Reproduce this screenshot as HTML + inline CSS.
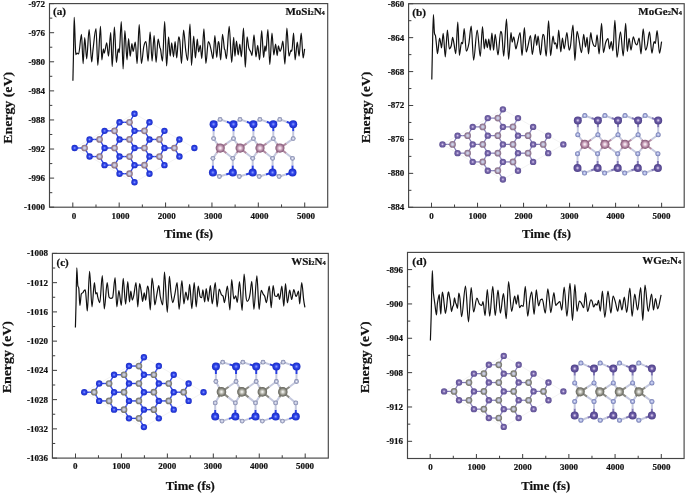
<!DOCTYPE html><html><head><meta charset="utf-8"><style>html,body{margin:0;padding:0;background:#fff;}body{width:685px;height:493px;overflow:hidden;}svg{display:block;filter:blur(0.45px);}</style></head><body><svg width="685" height="493" viewBox="0 0 685 493"><defs><radialGradient id="gSi" cx="0.5" cy="0.5" r="0.5"><stop offset="0" stop-color="#90a0ff"/><stop offset="0.45" stop-color="#2e44ea"/><stop offset="1" stop-color="#1a2cc4"/></radialGradient><radialGradient id="gN" cx="0.5" cy="0.5" r="0.5"><stop offset="0" stop-color="#f0f2ff"/><stop offset="0.35" stop-color="#b8c0e8"/><stop offset="0.7" stop-color="#9098cc"/><stop offset="1" stop-color="#6c74a8"/></radialGradient><radialGradient id="gNl" cx="0.5" cy="0.5" r="0.5"><stop offset="0" stop-color="#f8f8ff"/><stop offset="0.35" stop-color="#c8ccE2"/><stop offset="0.7" stop-color="#9ca2c2"/><stop offset="1" stop-color="#767ca0"/></radialGradient><radialGradient id="gMo" cx="0.5" cy="0.5" r="0.5"><stop offset="0" stop-color="#ffffff"/><stop offset="0.35" stop-color="#dcbcd0"/><stop offset="0.7" stop-color="#a87c98"/><stop offset="1" stop-color="#7e5474"/></radialGradient><radialGradient id="gMoT" cx="0.5" cy="0.5" r="0.5"><stop offset="0" stop-color="#d4d8f0"/><stop offset="0.35" stop-color="#c4c4dc"/><stop offset="0.7" stop-color="#9a8090"/><stop offset="1" stop-color="#8a7484"/></radialGradient><radialGradient id="gMoTb" cx="0.5" cy="0.5" r="0.5"><stop offset="0" stop-color="#d4d8f0"/><stop offset="0.35" stop-color="#c0c2dc"/><stop offset="0.7" stop-color="#9a8098"/><stop offset="1" stop-color="#86708a"/></radialGradient><radialGradient id="gWTr" cx="0.5" cy="0.5" r="0.5"><stop offset="0" stop-color="#d4d8ec"/><stop offset="0.35" stop-color="#c0c2d6"/><stop offset="0.7" stop-color="#86867e"/><stop offset="1" stop-color="#74746c"/></radialGradient><radialGradient id="gGe" cx="0.5" cy="0.5" r="0.5"><stop offset="0" stop-color="#eadcf8"/><stop offset="0.45" stop-color="#6c5ca6"/><stop offset="1" stop-color="#4e4088"/></radialGradient><radialGradient id="gGeT" cx="0.5" cy="0.5" r="0.5"><stop offset="0" stop-color="#e0d0f4"/><stop offset="0.45" stop-color="#7868ac"/><stop offset="1" stop-color="#5c4e92"/></radialGradient><radialGradient id="gW" cx="0.5" cy="0.5" r="0.5"><stop offset="0" stop-color="#ffffff"/><stop offset="0.35" stop-color="#c4c4bc"/><stop offset="0.7" stop-color="#86867c"/><stop offset="1" stop-color="#62625a"/></radialGradient><radialGradient id="gWT" cx="0.5" cy="0.5" r="0.5"><stop offset="0" stop-color="#e8e8e4"/><stop offset="0.45" stop-color="#8c8c88"/><stop offset="1" stop-color="#60605c"/></radialGradient><radialGradient id="gLav" cx="0.5" cy="0.5" r="0.5"><stop offset="0" stop-color="#eceaf4"/><stop offset="0.45" stop-color="#a8a2c4"/><stop offset="1" stop-color="#7a7298"/></radialGradient></defs><rect width="685" height="493" fill="#fff"/><g font-family='"Liberation Serif", serif' font-weight="bold" fill="#111" stroke="#111" stroke-width="0.2"><rect x="49.5" y="3.6" width="278.2" height="203.6" fill="none" stroke="#454545" stroke-width="1.15"/><line x1="72.8" y1="207.2" x2="72.8" y2="202.6" stroke="#444" stroke-width="1.05"/><text x="74" y="218.5" text-anchor="middle" font-size="9">0</text><line x1="95.99" y1="207.2" x2="95.99" y2="204.4" stroke="#444" stroke-width="1.05"/><line x1="119.18" y1="207.2" x2="119.18" y2="202.6" stroke="#444" stroke-width="1.05"/><text x="120.38" y="218.5" text-anchor="middle" font-size="9">1000</text><line x1="142.37" y1="207.2" x2="142.37" y2="204.4" stroke="#444" stroke-width="1.05"/><line x1="165.56" y1="207.2" x2="165.56" y2="202.6" stroke="#444" stroke-width="1.05"/><text x="166.76" y="218.5" text-anchor="middle" font-size="9">2000</text><line x1="188.75" y1="207.2" x2="188.75" y2="204.4" stroke="#444" stroke-width="1.05"/><line x1="211.94" y1="207.2" x2="211.94" y2="202.6" stroke="#444" stroke-width="1.05"/><text x="213.14" y="218.5" text-anchor="middle" font-size="9">3000</text><line x1="235.13" y1="207.2" x2="235.13" y2="204.4" stroke="#444" stroke-width="1.05"/><line x1="258.32" y1="207.2" x2="258.32" y2="202.6" stroke="#444" stroke-width="1.05"/><text x="259.52" y="218.5" text-anchor="middle" font-size="9">4000</text><line x1="281.51" y1="207.2" x2="281.51" y2="204.4" stroke="#444" stroke-width="1.05"/><line x1="304.7" y1="207.2" x2="304.7" y2="202.6" stroke="#444" stroke-width="1.05"/><text x="305.9" y="218.5" text-anchor="middle" font-size="9">5000</text><line x1="49.5" y1="3.6" x2="54.1" y2="3.6" stroke="#444" stroke-width="1.05"/><text x="45.1" y="6.55" text-anchor="end" font-size="9">-972</text><line x1="49.5" y1="18.14" x2="52.3" y2="18.14" stroke="#444" stroke-width="1.05"/><line x1="49.5" y1="32.69" x2="54.1" y2="32.69" stroke="#444" stroke-width="1.05"/><text x="45.1" y="35.64" text-anchor="end" font-size="9">-976</text><line x1="49.5" y1="47.23" x2="52.3" y2="47.23" stroke="#444" stroke-width="1.05"/><line x1="49.5" y1="61.77" x2="54.1" y2="61.77" stroke="#444" stroke-width="1.05"/><text x="45.1" y="64.72" text-anchor="end" font-size="9">-980</text><line x1="49.5" y1="76.31" x2="52.3" y2="76.31" stroke="#444" stroke-width="1.05"/><line x1="49.5" y1="90.86" x2="54.1" y2="90.86" stroke="#444" stroke-width="1.05"/><text x="45.1" y="93.81" text-anchor="end" font-size="9">-984</text><line x1="49.5" y1="105.4" x2="52.3" y2="105.4" stroke="#444" stroke-width="1.05"/><line x1="49.5" y1="119.94" x2="54.1" y2="119.94" stroke="#444" stroke-width="1.05"/><text x="45.1" y="122.89" text-anchor="end" font-size="9">-988</text><line x1="49.5" y1="134.49" x2="52.3" y2="134.49" stroke="#444" stroke-width="1.05"/><line x1="49.5" y1="149.03" x2="54.1" y2="149.03" stroke="#444" stroke-width="1.05"/><text x="45.1" y="151.98" text-anchor="end" font-size="9">-992</text><line x1="49.5" y1="163.57" x2="52.3" y2="163.57" stroke="#444" stroke-width="1.05"/><line x1="49.5" y1="178.11" x2="54.1" y2="178.11" stroke="#444" stroke-width="1.05"/><text x="45.1" y="181.06" text-anchor="end" font-size="9">-996</text><line x1="49.5" y1="192.66" x2="52.3" y2="192.66" stroke="#444" stroke-width="1.05"/><line x1="49.5" y1="207.2" x2="54.1" y2="207.2" stroke="#444" stroke-width="1.05"/><text x="45.1" y="210.15" text-anchor="end" font-size="9">-1000</text><text x="188.6" y="238.1" text-anchor="middle" font-size="13" textLength="49" lengthAdjust="spacingAndGlyphs">Time (fs)</text><text transform="translate(12.4,143.7) rotate(-90)" x="0" y="0" font-size="13.5" textLength="71.7" lengthAdjust="spacingAndGlyphs">Energy (eV)</text><text x="52.9" y="15.3" font-size="11.2" textLength="13.1" lengthAdjust="spacingAndGlyphs">(a)</text><text x="324.8" y="15" text-anchor="end" font-size="11">MoSi<tspan font-size="6.4" dy="0.3">2</tspan><tspan dy="-0.3">N</tspan><tspan font-size="6.4" dy="0.3">4</tspan></text><path d="M72.9,80.7C73.07,73.13 73.23,66.13 73.4,58C73.67,44.99 73.93,17.3 74.2,17.3C74.57,17.3 74.93,36.43 75.3,45C75.47,48.9 75.63,54.7 75.8,54.7C76.2,54.7 76.6,53 77,53C77.53,53 78.07,54 78.6,54C79.57,54 80.53,34.4 81.5,34.4C82.03,34.4 82.57,63.7 83.1,63.7C83.63,63.7 84.17,37.6 84.7,37.6C85.37,37.6 86.03,58.8 86.7,58.8C87.5,58.8 88.3,29.5 89.1,29.5C89.97,29.5 90.83,62 91.7,62C92.1,62 92.5,53.7 92.9,50.6C93.93,42.6 94.97,28.7 96,28.7C96.6,28.7 97.2,65.3 97.8,65.3C98.7,65.3 99.6,26.3 100.5,26.3C100.93,26.3 101.37,59.9 101.8,59.9C102.33,59.9 102.87,48.9 103.4,48.9C103.7,48.9 104,53.2 104.3,53.2C105.1,53.2 105.9,42.8 106.7,42.8C107.3,42.8 107.9,56.2 108.5,56.2C109.23,56.2 109.97,32.5 110.7,32.5C111.2,32.5 111.7,66.6 112.2,66.6C112.93,66.6 113.67,27 114.4,27C115.07,27 115.73,62.3 116.4,62.3C117,62.3 117.6,48.9 118.2,48.9C118.53,48.9 118.87,52.6 119.2,52.6C119.9,52.6 120.6,21.6 121.3,21.6C121.9,21.6 122.5,69 123.1,69C123.7,69 124.3,30.7 124.9,30.7C125.6,30.7 126.3,59.9 127,59.9C127.53,59.9 128.07,38.6 128.6,38.6C129.13,38.6 129.67,56.2 130.2,56.2C130.77,56.2 131.33,43.5 131.9,43.5C132.3,43.5 132.7,51.4 133.1,51.4C133.83,51.4 134.57,42.2 135.3,42.2C135.9,42.2 136.5,63.5 137.1,63.5C137.8,63.5 138.5,24.6 139.2,24.6C139.93,24.6 140.67,63.5 141.4,63.5C142.2,63.5 143,50.31 143.8,46.5C144.53,43.01 145.27,41.6 146,41.6C146.7,41.6 147.4,61.1 148.1,61.1C148.77,61.1 149.43,31.9 150.1,31.9C150.77,31.9 151.43,61.1 152.1,61.1C152.77,61.1 153.43,35.5 154.1,35.5C154.77,35.5 155.43,62.3 156.1,62.3C156.77,62.3 157.43,39.2 158.1,39.2C158.7,39.2 159.3,45.27 159.9,47.7C160.1,48.51 160.3,47.87 160.5,48.9C161.17,52.34 161.83,61.1 162.5,61.1C163.23,61.1 163.97,21.6 164.7,21.6C165.33,21.6 165.97,66 166.6,66C167.27,66 167.93,36.8 168.6,36.8C169.13,36.8 169.67,56.2 170.2,56.2C170.7,56.2 171.2,42.8 171.7,42.8C172.3,42.8 172.9,56.8 173.5,56.8C174.03,56.8 174.57,41.6 175.1,41.6C175.63,41.6 176.17,58 176.7,58C177.37,58 178.03,36.8 178.7,36.8C179.1,36.8 179.5,37.79 179.9,41.6C180.43,46.69 180.97,63.5 181.5,63.5C182.2,63.5 182.9,30.1 183.6,30.1C184.3,30.1 185,44.78 185.7,50.1C186.33,54.91 186.97,60.5 187.6,60.5C188.4,60.5 189.2,24 190,24C190.5,24 191,65.4 191.5,65.4C192.23,65.4 192.97,36.2 193.7,36.2C194.27,36.2 194.83,58 195.4,58C196.03,58 196.67,39.2 197.3,39.2C197.73,39.2 198.17,52 198.6,52C199.17,52 199.73,45.3 200.3,45.3C200.8,45.3 201.3,58.7 201.8,58.7C202.5,58.7 203.2,28.9 203.9,28.9C204.57,28.9 205.23,63.5 205.9,63.5C206.7,63.5 207.5,41.6 208.3,41.6C208.77,41.6 209.23,42.57 209.7,44C210.23,45.64 210.77,48.42 211.3,50.8C211.87,53.32 212.43,58.7 213,58.7C213.63,58.7 214.27,35.5 214.9,35.5C215.5,35.5 216.1,57.4 216.7,57.4C217.23,57.4 217.77,41.6 218.3,41.6C218.57,41.6 218.83,41.6 219.1,43.5C219.63,47.3 220.17,59.9 220.7,59.9C221.3,59.9 221.9,34.3 222.5,34.3C223.13,34.3 223.77,45.1 224.4,48.9C224.6,50.1 224.8,49.12 225,50.1C225.47,52.39 225.93,58.7 226.4,58.7C227.33,58.7 228.27,26.4 229.2,26.4C230.03,26.4 230.87,62.3 231.7,62.3C232.37,62.3 233.03,37.4 233.7,37.4C234.1,37.4 234.5,56.2 234.9,56.2C235.43,56.2 235.97,41 236.5,41C237.07,41 237.63,55 238.2,55C238.73,55 239.27,44 239.8,44C240.33,44 240.87,56.8 241.4,56.8C242.1,56.8 242.8,28.2 243.5,28.2C244.1,28.2 244.7,67.2 245.3,67.2C245.9,67.2 246.5,36.8 247.1,36.8C247.63,36.8 248.17,45.51 248.7,47.7C249.4,50.58 250.1,50.32 250.8,52C251.2,52.96 251.6,55.6 252,55.6C252.67,55.6 253.33,34.9 254,34.9C254.67,34.9 255.33,56.8 256,56.8C256.57,56.8 257.13,45.3 257.7,45.3C258.33,45.3 258.97,59.9 259.6,59.9C260.3,59.9 261,30.7 261.7,30.7C262.33,30.7 262.97,57.5 263.6,57.5C264.07,57.5 264.53,45.9 265,45.9C265.3,45.9 265.6,51.4 265.9,51.4C266.57,51.4 267.23,29.5 267.9,29.5C268.53,29.5 269.17,64.5 269.8,64.5C270.53,64.5 271.27,33.1 272,33.1C272.6,33.1 273.2,55 273.8,55C274.4,55 275,44 275.6,44C276.13,44 276.67,55.6 277.2,55.6C277.6,55.6 278,45.9 278.4,45.9C278.93,45.9 279.47,51.4 280,51.4C280.5,51.4 281,49.49 281.5,47.7C281.97,46.03 282.43,41 282.9,41C283.57,41 284.23,64.1 284.9,64.1C285.57,64.1 286.23,28.2 286.9,28.2C287.6,28.2 288.3,56.2 289,56.2C289.67,56.2 290.33,50.1 291,50.1C291.27,50.1 291.53,51.4 291.8,51.4C292.4,51.4 293,33.1 293.6,33.1C294.1,33.1 294.6,59.9 295.1,59.9C295.83,59.9 296.57,42.2 297.3,42.2C297.9,42.2 298.5,56.2 299.1,56.2C299.8,56.2 300.5,33.1 301.2,33.1C301.83,33.1 302.47,58 303.1,58C303.6,58 304.1,51.93 304.6,48.9" fill="none" stroke="#111" stroke-width="1.2" stroke-linejoin="round"/></g><g font-family='"Liberation Serif", serif' font-weight="bold" fill="#111" stroke="#111" stroke-width="0.2"><rect x="408.6" y="3.7" width="275.6" height="203.6" fill="none" stroke="#454545" stroke-width="1.15"/><line x1="431.5" y1="207.3" x2="431.5" y2="202.7" stroke="#444" stroke-width="1.05"/><text x="431.5" y="218.6" text-anchor="middle" font-size="9">0</text><line x1="454.51" y1="207.3" x2="454.51" y2="204.5" stroke="#444" stroke-width="1.05"/><line x1="477.52" y1="207.3" x2="477.52" y2="202.7" stroke="#444" stroke-width="1.05"/><text x="477.52" y="218.6" text-anchor="middle" font-size="9">1000</text><line x1="500.53" y1="207.3" x2="500.53" y2="204.5" stroke="#444" stroke-width="1.05"/><line x1="523.54" y1="207.3" x2="523.54" y2="202.7" stroke="#444" stroke-width="1.05"/><text x="523.54" y="218.6" text-anchor="middle" font-size="9">2000</text><line x1="546.55" y1="207.3" x2="546.55" y2="204.5" stroke="#444" stroke-width="1.05"/><line x1="569.56" y1="207.3" x2="569.56" y2="202.7" stroke="#444" stroke-width="1.05"/><text x="569.56" y="218.6" text-anchor="middle" font-size="9">3000</text><line x1="592.57" y1="207.3" x2="592.57" y2="204.5" stroke="#444" stroke-width="1.05"/><line x1="615.58" y1="207.3" x2="615.58" y2="202.7" stroke="#444" stroke-width="1.05"/><text x="615.58" y="218.6" text-anchor="middle" font-size="9">4000</text><line x1="638.59" y1="207.3" x2="638.59" y2="204.5" stroke="#444" stroke-width="1.05"/><line x1="661.6" y1="207.3" x2="661.6" y2="202.7" stroke="#444" stroke-width="1.05"/><text x="661.6" y="218.6" text-anchor="middle" font-size="9">5000</text><line x1="408.6" y1="3.7" x2="413.2" y2="3.7" stroke="#444" stroke-width="1.05"/><text x="404.2" y="6.65" text-anchor="end" font-size="9">-860</text><line x1="408.6" y1="20.67" x2="411.4" y2="20.67" stroke="#444" stroke-width="1.05"/><line x1="408.6" y1="37.63" x2="413.2" y2="37.63" stroke="#444" stroke-width="1.05"/><text x="404.2" y="40.58" text-anchor="end" font-size="9">-864</text><line x1="408.6" y1="54.6" x2="411.4" y2="54.6" stroke="#444" stroke-width="1.05"/><line x1="408.6" y1="71.57" x2="413.2" y2="71.57" stroke="#444" stroke-width="1.05"/><text x="404.2" y="74.52" text-anchor="end" font-size="9">-868</text><line x1="408.6" y1="88.53" x2="411.4" y2="88.53" stroke="#444" stroke-width="1.05"/><line x1="408.6" y1="105.5" x2="413.2" y2="105.5" stroke="#444" stroke-width="1.05"/><text x="404.2" y="108.45" text-anchor="end" font-size="9">-872</text><line x1="408.6" y1="122.47" x2="411.4" y2="122.47" stroke="#444" stroke-width="1.05"/><line x1="408.6" y1="139.43" x2="413.2" y2="139.43" stroke="#444" stroke-width="1.05"/><text x="404.2" y="142.38" text-anchor="end" font-size="9">-876</text><line x1="408.6" y1="156.4" x2="411.4" y2="156.4" stroke="#444" stroke-width="1.05"/><line x1="408.6" y1="173.37" x2="413.2" y2="173.37" stroke="#444" stroke-width="1.05"/><text x="404.2" y="176.32" text-anchor="end" font-size="9">-880</text><line x1="408.6" y1="190.33" x2="411.4" y2="190.33" stroke="#444" stroke-width="1.05"/><line x1="408.6" y1="207.3" x2="413.2" y2="207.3" stroke="#444" stroke-width="1.05"/><text x="404.2" y="210.25" text-anchor="end" font-size="9">-884</text><text x="546.4" y="238.2" text-anchor="middle" font-size="13" textLength="49" lengthAdjust="spacingAndGlyphs">Time (fs)</text><text transform="translate(369.8,143.3) rotate(-90)" x="0" y="0" font-size="13.5" textLength="71.7" lengthAdjust="spacingAndGlyphs">Energy (eV)</text><text x="412.2" y="15.6" font-size="11.2" textLength="13.8" lengthAdjust="spacingAndGlyphs">(b)</text><text x="682" y="15.1" text-anchor="end" font-size="11">MoGe<tspan font-size="6.4" dy="0.3">2</tspan><tspan dy="-0.3">N</tspan><tspan font-size="6.4" dy="0.3">4</tspan></text><path d="M431.8,79.6C431.97,71.5 432.13,62.06 432.3,55.3C432.67,40.43 433.03,14.7 433.4,14.7C433.73,14.7 434.07,29.69 434.4,32.6C434.77,35.8 435.13,33.73 435.5,35.8C435.8,37.49 436.1,41.23 436.4,43.9C436.77,47.16 437.13,53.6 437.5,53.6C438.2,53.6 438.9,38.2 439.6,38.2C439.97,38.2 440.33,41.21 440.7,43.1C440.97,44.48 441.23,48 441.5,48C442.07,48 442.63,33.4 443.2,33.4C443.9,33.4 444.6,56.9 445.3,56.9C446,56.9 446.7,30.1 447.4,30.1C448.03,30.1 448.67,48.8 449.3,48.8C449.97,48.8 450.63,47.8 451.3,45.5C451.73,44 452.17,37.4 452.6,37.4C453.03,37.4 453.47,40.91 453.9,43.1C454.53,46.31 455.17,53.6 455.8,53.6C456.47,53.6 457.13,22 457.8,22C458.33,22 458.87,55.3 459.4,55.3C460.1,55.3 460.8,42.3 461.5,42.3C461.87,42.3 462.23,43.9 462.6,43.9C463.13,43.9 463.67,28.5 464.2,28.5C464.9,28.5 465.6,51.2 466.3,51.2C467.13,51.2 467.97,48.17 468.8,43.9C469.6,39.8 470.4,26.1 471.2,26.1C472,26.1 472.8,60.1 473.6,60.1C474.8,60.1 476,30.1 477.2,30.1C478.23,30.1 479.27,56.5 480.3,56.5C481.03,56.5 481.77,26.6 482.5,26.6C483.1,26.6 483.7,48.9 484.3,48.9C484.8,48.9 485.3,39.2 485.8,39.2C486.3,39.2 486.8,47.7 487.3,47.7C487.8,47.7 488.3,39.2 488.8,39.2C489.3,39.2 489.8,50.1 490.3,50.1C490.83,50.1 491.37,33.1 491.9,33.1C492.47,33.1 493.03,50.1 493.6,50.1C494.13,50.1 494.67,34.3 495.2,34.3C496.13,34.3 497.07,55 498,55C498.9,55 499.8,31.3 500.7,31.3C501.1,31.3 501.5,31.3 501.9,34.3C502.5,38.8 503.1,56.2 503.7,56.2C504.63,56.2 505.57,19.1 506.5,19.1C507.2,19.1 507.9,59.3 508.6,59.3C509.4,59.3 510.2,32.5 511,32.5C511.4,32.5 511.8,42.2 512.2,42.2C512.73,42.2 513.27,36.8 513.8,36.8C514.5,36.8 515.2,48.9 515.9,48.9C516.43,48.9 516.97,44.88 517.5,42.8C518.37,39.42 519.23,32.5 520.1,32.5C520.73,32.5 521.37,55.6 522,55.6C522.8,55.6 523.6,27.6 524.4,27.6C525,27.6 525.6,52 526.2,52C526.83,52 527.47,47.73 528.1,45.3C528.9,42.23 529.7,35.5 530.5,35.5C531.1,35.5 531.7,54.4 532.3,54.4C533.3,54.4 534.3,34.3 535.3,34.3C535.77,34.3 536.23,45.3 536.7,45.3C537.17,45.3 537.63,36.2 538.1,36.2C538.9,36.2 539.7,55 540.5,55C541.3,55 542.1,34.3 542.9,34.3C543.3,34.3 543.7,34.3 544.1,36.2C544.8,39.52 545.5,56.2 546.2,56.2C547,56.2 547.8,20.9 548.6,20.9C549.27,20.9 549.93,55.6 550.6,55.6C551.4,55.6 552.2,36.2 553,36.2C553.5,36.2 554,44 554.5,44C554.9,44 555.3,42.8 555.7,42.8C556.17,42.8 556.63,48.9 557.1,48.9C557.63,48.9 558.17,30.1 558.7,30.1C559.4,30.1 560.1,52 560.8,52C561.33,52 561.87,38 562.4,38C563,38 563.6,48.9 564.2,48.9C565.1,48.9 566,32.5 566.9,32.5C567.63,32.5 568.37,50.1 569.1,50.1C569.57,50.1 570.03,48.88 570.5,45.9C571.33,40.58 572.17,25.2 573,25.2C573.63,25.2 574.27,60.5 574.9,60.5C575.6,60.5 576.3,31.3 577,31.3C577.6,31.3 578.2,35.76 578.8,38.6C579.7,42.86 580.6,52.6 581.5,52.6C582.23,52.6 582.97,34.3 583.7,34.3C584.3,34.3 584.9,47.1 585.5,47.1C586.03,47.1 586.57,37.4 587.1,37.4C587.57,37.4 588.03,53.8 588.5,53.8C589.27,53.8 590.03,32.5 590.8,32.5C591.13,32.5 591.47,37.68 591.8,39.2C592.4,41.94 593,44.16 593.6,45.3C594.23,46.5 594.87,46.5 595.5,46.5C596.03,46.5 596.57,34.9 597.1,34.9C597.77,34.9 598.43,53.8 599.1,53.8C599.93,53.8 600.77,23.4 601.6,23.4C602.2,23.4 602.8,52.6 603.4,52.6C604.13,52.6 604.87,45.03 605.6,42.8C606.4,40.37 607.2,38.6 608,38.6C608.5,38.6 609,48.9 609.5,48.9C610.1,48.9 610.7,41.6 611.3,41.6C611.83,41.6 612.37,50.8 612.9,50.8C613.57,50.8 614.23,20.3 614.9,20.3C615.6,20.3 616.3,57.4 617,57.4C618.17,57.4 619.33,31.9 620.5,31.9C621.4,31.9 622.3,55.9 623.2,55.9C624.03,55.9 624.87,23.4 625.7,23.4C626.23,23.4 626.77,51.4 627.3,51.4C627.9,51.4 628.5,38.3 629.1,38.3C629.73,38.3 630.37,50.1 631,50.1C631.77,50.1 632.53,36.8 633.3,36.8C633.97,36.8 634.63,41.58 635.3,43.1C635.83,44.31 636.37,45 636.9,45C637.63,45 638.37,38 639.1,38C639.73,38 640.37,53.8 641,53.8C641.73,53.8 642.47,28.9 643.2,28.9C643.97,28.9 644.73,50.1 645.5,50.1C646.1,50.1 646.7,48.03 647.3,45.3C648.03,41.96 648.77,31.9 649.5,31.9C650.3,31.9 651.1,53.2 651.9,53.2C652.63,53.2 653.37,41.6 654.1,41.6C654.5,41.6 654.9,43.5 655.3,43.5C655.9,43.5 656.5,30.7 657.1,30.7C657.9,30.7 658.7,53.2 659.5,53.2C660.2,53.2 660.9,45.47 661.6,41.6" fill="none" stroke="#111" stroke-width="1.2" stroke-linejoin="round"/></g><g font-family='"Liberation Serif", serif' font-weight="bold" fill="#111" stroke="#111" stroke-width="0.2"><rect x="52.4" y="253.4" width="275.9" height="204.7" fill="none" stroke="#454545" stroke-width="1.15"/><line x1="75.5" y1="458.1" x2="75.5" y2="453.5" stroke="#444" stroke-width="1.05"/><text x="75.3" y="469.4" text-anchor="middle" font-size="9">0</text><line x1="98.47" y1="458.1" x2="98.47" y2="455.3" stroke="#444" stroke-width="1.05"/><line x1="121.44" y1="458.1" x2="121.44" y2="453.5" stroke="#444" stroke-width="1.05"/><text x="121.24" y="469.4" text-anchor="middle" font-size="9">1000</text><line x1="144.41" y1="458.1" x2="144.41" y2="455.3" stroke="#444" stroke-width="1.05"/><line x1="167.38" y1="458.1" x2="167.38" y2="453.5" stroke="#444" stroke-width="1.05"/><text x="167.18" y="469.4" text-anchor="middle" font-size="9">2000</text><line x1="190.35" y1="458.1" x2="190.35" y2="455.3" stroke="#444" stroke-width="1.05"/><line x1="213.32" y1="458.1" x2="213.32" y2="453.5" stroke="#444" stroke-width="1.05"/><text x="213.12" y="469.4" text-anchor="middle" font-size="9">3000</text><line x1="236.29" y1="458.1" x2="236.29" y2="455.3" stroke="#444" stroke-width="1.05"/><line x1="259.26" y1="458.1" x2="259.26" y2="453.5" stroke="#444" stroke-width="1.05"/><text x="259.06" y="469.4" text-anchor="middle" font-size="9">4000</text><line x1="282.23" y1="458.1" x2="282.23" y2="455.3" stroke="#444" stroke-width="1.05"/><line x1="305.2" y1="458.1" x2="305.2" y2="453.5" stroke="#444" stroke-width="1.05"/><text x="305" y="469.4" text-anchor="middle" font-size="9">5000</text><line x1="52.4" y1="253.4" x2="57" y2="253.4" stroke="#444" stroke-width="1.05"/><text x="48" y="256.35" text-anchor="end" font-size="9">-1008</text><line x1="52.4" y1="268.02" x2="55.2" y2="268.02" stroke="#444" stroke-width="1.05"/><line x1="52.4" y1="282.64" x2="57" y2="282.64" stroke="#444" stroke-width="1.05"/><text x="48" y="285.59" text-anchor="end" font-size="9">-1012</text><line x1="52.4" y1="297.26" x2="55.2" y2="297.26" stroke="#444" stroke-width="1.05"/><line x1="52.4" y1="311.89" x2="57" y2="311.89" stroke="#444" stroke-width="1.05"/><text x="48" y="314.84" text-anchor="end" font-size="9">-1016</text><line x1="52.4" y1="326.51" x2="55.2" y2="326.51" stroke="#444" stroke-width="1.05"/><line x1="52.4" y1="341.13" x2="57" y2="341.13" stroke="#444" stroke-width="1.05"/><text x="48" y="344.08" text-anchor="end" font-size="9">-1020</text><line x1="52.4" y1="355.75" x2="55.2" y2="355.75" stroke="#444" stroke-width="1.05"/><line x1="52.4" y1="370.37" x2="57" y2="370.37" stroke="#444" stroke-width="1.05"/><text x="48" y="373.32" text-anchor="end" font-size="9">-1024</text><line x1="52.4" y1="384.99" x2="55.2" y2="384.99" stroke="#444" stroke-width="1.05"/><line x1="52.4" y1="399.61" x2="57" y2="399.61" stroke="#444" stroke-width="1.05"/><text x="48" y="402.56" text-anchor="end" font-size="9">-1028</text><line x1="52.4" y1="414.24" x2="55.2" y2="414.24" stroke="#444" stroke-width="1.05"/><line x1="52.4" y1="428.86" x2="57" y2="428.86" stroke="#444" stroke-width="1.05"/><text x="48" y="431.81" text-anchor="end" font-size="9">-1032</text><line x1="52.4" y1="443.48" x2="55.2" y2="443.48" stroke="#444" stroke-width="1.05"/><line x1="52.4" y1="458.1" x2="57" y2="458.1" stroke="#444" stroke-width="1.05"/><text x="48" y="461.05" text-anchor="end" font-size="9">-1036</text><text x="190.35" y="489.7" text-anchor="middle" font-size="13" textLength="49" lengthAdjust="spacingAndGlyphs">Time (fs)</text><text transform="translate(10.8,393.3) rotate(-90)" x="0" y="0" font-size="13.5" textLength="72.1" lengthAdjust="spacingAndGlyphs">Energy (eV)</text><text x="56.6" y="266.1" font-size="11.2" textLength="12.1" lengthAdjust="spacingAndGlyphs">(c)</text><text x="325.7" y="264.9" text-anchor="end" font-size="11">WSi<tspan font-size="6.4" dy="0.3">2</tspan><tspan dy="-0.3">N</tspan><tspan font-size="6.4" dy="0.3">4</tspan></text><path d="M75.4,327.4C75.6,319.83 75.8,313.21 76,304.7C76.27,293.35 76.53,267.8 76.8,267.8C77.13,267.8 77.47,282.6 77.8,285.5C78.13,288.4 78.47,285.5 78.8,288.4C79.17,291.59 79.53,305.4 79.9,305.4C80.37,305.4 80.83,295.15 81.3,294C81.87,292.6 82.43,293.28 83,292.6C83.4,292.12 83.8,290.99 84.2,290.5C84.57,290.05 84.93,289.8 85.3,289.8C85.63,289.8 85.97,296.17 86.3,299.7C86.63,303.23 86.97,311 87.3,311C88.07,311 88.83,271.3 89.6,271.3C90.4,271.3 91.2,306.8 92,306.8C92.8,306.8 93.6,282.7 94.4,282.7C94.87,282.7 95.33,294 95.8,294C96.2,294 96.6,292.6 97,292.6C97.23,292.6 97.47,296.07 97.7,296.9C98.4,299.4 99.1,302.6 99.8,302.6C100.63,302.6 101.47,275.6 102.3,275.6C102.97,275.6 103.63,308.9 104.3,308.9C105.27,308.9 106.23,282.7 107.2,282.7C107.8,282.7 108.4,295.57 109,296.9C109.63,298.3 110.27,298.3 110.9,298.3C111.47,298.3 112.03,298.3 112.6,297.6C113.43,296.57 114.27,277.7 115.1,277.7C115.67,277.7 116.23,306.8 116.8,306.8C117.5,306.8 118.2,290.5 118.9,290.5C119.7,290.5 120.5,305.4 121.3,305.4C121.93,305.4 122.57,278.4 123.2,278.4C124,278.4 124.8,304.2 125.6,304.2C126.33,304.2 127.07,281.6 127.8,281.6C128.37,281.6 128.93,302 129.5,302C129.93,302 130.37,291 130.8,291C131.3,291 131.8,300.1 132.3,300.1C132.8,300.1 133.3,297.68 133.8,295.3C134.53,291.81 135.27,282.5 136,282.5C136.6,282.5 137.2,306.8 137.8,306.8C138.4,306.8 139,283.7 139.6,283.7C140.2,283.7 140.8,289.26 141.4,292.8C141.8,295.16 142.2,301.4 142.6,301.4C143.13,301.4 143.67,292.8 144.2,292.8C144.7,292.8 145.2,300.1 145.7,300.1C146.3,300.1 146.9,286.2 147.5,286.2C147.9,286.2 148.3,287.01 148.7,290.4C149.23,294.91 149.77,309.9 150.3,309.9C150.87,309.9 151.43,278.2 152,278.2C152.53,278.2 153.07,284.1 153.6,289.2C154,293.03 154.4,305 154.8,305C155.5,305 156.2,297.51 156.9,294.1C157.53,291.01 158.17,285.5 158.8,285.5C159.3,285.5 159.8,294 160.3,296.5C161.1,300.5 161.9,305 162.7,305C163.3,305 163.9,272.2 164.5,272.2C165.43,272.2 166.37,312.3 167.3,312.3C168,312.3 168.7,276.4 169.4,276.4C169.93,276.4 170.47,288.57 171,292.8C171.57,297.3 172.13,302.6 172.7,302.6C173.43,302.6 174.17,297.45 174.9,294.1C175.63,290.75 176.37,282.5 177.1,282.5C177.77,282.5 178.43,309.3 179.1,309.3C180.03,309.3 180.97,280.7 181.9,280.7C182.57,280.7 183.23,303.8 183.9,303.8C184.53,303.8 185.17,292.2 185.8,292.2C186.5,292.2 187.2,300.1 187.9,300.1C188.5,300.1 189.1,284.3 189.7,284.3C190.4,284.3 191.1,308.7 191.8,308.7C192.6,308.7 193.4,282.5 194.2,282.5C194.87,282.5 195.53,306.8 196.2,306.8C196.87,306.8 197.53,286.2 198.2,286.2C198.83,286.2 199.47,295.07 200.1,296.5C200.63,297.7 201.17,297.7 201.7,297.7C202.1,297.7 202.5,289.8 202.9,289.8C203.5,289.8 204.1,302 204.7,302C205.2,302 205.7,288.6 206.2,288.6C206.87,288.6 207.53,301.4 208.2,301.4C208.93,301.4 209.67,285.5 210.4,285.5C211,285.5 211.6,303.8 212.2,303.8C213.23,303.8 214.27,282.5 215.3,282.5C215.9,282.5 216.5,306.8 217.1,306.8C217.8,306.8 218.5,289.2 219.2,289.2C219.93,289.2 220.67,293.36 221.4,294.7C222,295.79 222.6,294.92 223.2,296.5C223.6,297.55 224,302.6 224.4,302.6C225.4,302.6 226.4,286.2 227.4,286.2C228.23,286.2 229.07,309.9 229.9,309.9C230.5,309.9 231.1,279.5 231.7,279.5C232.4,279.5 233.1,298.9 233.8,298.9C234.43,298.9 235.07,295.9 235.7,295.9C236.23,295.9 236.77,302.3 237.3,302.3C238.03,302.3 238.77,281.6 239.5,281.6C240.37,281.6 241.23,310.5 242.1,310.5C242.77,310.5 243.43,274 244.1,274C244.73,274 245.37,290.9 246,296.5C246.4,300.04 246.8,301.4 247.2,301.4C247.8,301.4 248.4,300.62 249,298.9C249.4,297.75 249.8,295.31 250.2,292.8C250.73,289.45 251.27,281.3 251.8,281.3C252.5,281.3 253.2,309.3 253.9,309.3C254.9,309.3 255.9,275.8 256.9,275.8C257.63,275.8 258.37,309.3 259.1,309.3C259.8,309.3 260.5,290.4 261.2,290.4C261.87,290.4 262.53,292.97 263.2,294.1C263.73,295 264.27,295.08 264.8,296.5C265.33,297.92 265.87,302.6 266.4,302.6C267.37,302.6 268.33,286.2 269.3,286.2C269.93,286.2 270.57,307.7 271.2,307.7C271.83,307.7 272.47,285.5 273.1,285.5C273.7,285.5 274.3,295.33 274.9,295.9C275.53,296.5 276.17,296.5 276.8,296.5C277.3,296.5 277.8,293.5 278.3,293.5C278.7,293.5 279.1,299.5 279.5,299.5C280.3,299.5 281.1,286.2 281.9,286.2C282.53,286.2 283.17,306.2 283.8,306.2C284.37,306.2 284.93,283.7 285.5,283.7C286.13,283.7 286.77,302.9 287.4,302.9C288.17,302.9 288.93,290.1 289.7,290.1C290.37,290.1 291.03,299.5 291.7,299.5C292.4,299.5 293.1,289.5 293.8,289.5C294.53,289.5 295.27,296.5 296,296.5C296.3,296.5 296.6,295.96 296.9,295.3C297.43,294.13 297.97,291 298.5,291C298.9,291 299.3,303.8 299.7,303.8C300.37,303.8 301.03,282.5 301.7,282.5C302.37,282.5 303.03,294.91 303.7,300.1C304.1,303.21 304.5,304.97 304.9,307.4" fill="none" stroke="#111" stroke-width="1.2" stroke-linejoin="round"/></g><g font-family='"Liberation Serif", serif' font-weight="bold" fill="#111" stroke="#111" stroke-width="0.2"><rect x="407.5" y="252.4" width="276.6" height="206.1" fill="none" stroke="#454545" stroke-width="1.15"/><line x1="430.2" y1="458.5" x2="430.2" y2="453.9" stroke="#444" stroke-width="1.05"/><text x="430.4" y="469.8" text-anchor="middle" font-size="9">0</text><line x1="453.31" y1="458.5" x2="453.31" y2="455.7" stroke="#444" stroke-width="1.05"/><line x1="476.42" y1="458.5" x2="476.42" y2="453.9" stroke="#444" stroke-width="1.05"/><text x="476.62" y="469.8" text-anchor="middle" font-size="9">1000</text><line x1="499.53" y1="458.5" x2="499.53" y2="455.7" stroke="#444" stroke-width="1.05"/><line x1="522.64" y1="458.5" x2="522.64" y2="453.9" stroke="#444" stroke-width="1.05"/><text x="522.84" y="469.8" text-anchor="middle" font-size="9">2000</text><line x1="545.75" y1="458.5" x2="545.75" y2="455.7" stroke="#444" stroke-width="1.05"/><line x1="568.86" y1="458.5" x2="568.86" y2="453.9" stroke="#444" stroke-width="1.05"/><text x="569.06" y="469.8" text-anchor="middle" font-size="9">3000</text><line x1="591.97" y1="458.5" x2="591.97" y2="455.7" stroke="#444" stroke-width="1.05"/><line x1="615.08" y1="458.5" x2="615.08" y2="453.9" stroke="#444" stroke-width="1.05"/><text x="615.28" y="469.8" text-anchor="middle" font-size="9">4000</text><line x1="638.19" y1="458.5" x2="638.19" y2="455.7" stroke="#444" stroke-width="1.05"/><line x1="661.3" y1="458.5" x2="661.3" y2="453.9" stroke="#444" stroke-width="1.05"/><text x="661.5" y="469.8" text-anchor="middle" font-size="9">5000</text><line x1="407.5" y1="269.57" x2="412.1" y2="269.57" stroke="#444" stroke-width="1.05"/><text x="403.1" y="272.52" text-anchor="end" font-size="9">-896</text><line x1="407.5" y1="286.75" x2="410.3" y2="286.75" stroke="#444" stroke-width="1.05"/><line x1="407.5" y1="303.93" x2="412.1" y2="303.93" stroke="#444" stroke-width="1.05"/><text x="403.1" y="306.88" text-anchor="end" font-size="9">-900</text><line x1="407.5" y1="321.1" x2="410.3" y2="321.1" stroke="#444" stroke-width="1.05"/><line x1="407.5" y1="338.27" x2="412.1" y2="338.27" stroke="#444" stroke-width="1.05"/><text x="403.1" y="341.22" text-anchor="end" font-size="9">-904</text><line x1="407.5" y1="355.45" x2="410.3" y2="355.45" stroke="#444" stroke-width="1.05"/><line x1="407.5" y1="372.62" x2="412.1" y2="372.62" stroke="#444" stroke-width="1.05"/><text x="403.1" y="375.57" text-anchor="end" font-size="9">-908</text><line x1="407.5" y1="389.8" x2="410.3" y2="389.8" stroke="#444" stroke-width="1.05"/><line x1="407.5" y1="406.98" x2="412.1" y2="406.98" stroke="#444" stroke-width="1.05"/><text x="403.1" y="409.93" text-anchor="end" font-size="9">-912</text><line x1="407.5" y1="424.15" x2="410.3" y2="424.15" stroke="#444" stroke-width="1.05"/><line x1="407.5" y1="441.32" x2="412.1" y2="441.32" stroke="#444" stroke-width="1.05"/><text x="403.1" y="444.27" text-anchor="end" font-size="9">-916</text><text x="545.8" y="490.1" text-anchor="middle" font-size="13" textLength="49" lengthAdjust="spacingAndGlyphs">Time (fs)</text><text transform="translate(369,393.3) rotate(-90)" x="0" y="0" font-size="13.5" textLength="71.8" lengthAdjust="spacingAndGlyphs">Energy (eV)</text><text x="412.3" y="265.2" font-size="11.2" textLength="14.3" lengthAdjust="spacingAndGlyphs">(d)</text><text x="681.1" y="264" text-anchor="end" font-size="11">WGe<tspan font-size="6.4" dy="0.3">2</tspan><tspan dy="-0.3">N</tspan><tspan font-size="6.4" dy="0.3">4</tspan></text><path d="M430.4,340.4C430.67,332.03 430.93,325.08 431.2,315.3C431.57,301.85 431.93,270.7 432.3,270.7C432.47,270.7 432.63,277.93 432.8,281.6C432.93,284.53 433.07,288.55 433.2,290.5C433.4,293.42 433.6,294.57 433.8,296.2C434.13,298.91 434.47,301.19 434.8,303.5C435.37,307.42 435.93,314.9 436.5,314.9C436.77,314.9 437.03,306.87 437.3,304.3C437.57,301.73 437.83,300.79 438.1,299.5C438.5,297.56 438.9,294.6 439.3,294.6C439.57,294.6 439.83,303.33 440.1,306.8C440.33,309.83 440.57,314.1 440.8,314.1C441.1,314.1 441.4,302.81 441.7,298.7C441.93,295.51 442.17,292.2 442.4,292.2C442.73,292.2 443.07,294.76 443.4,297C443.67,298.79 443.93,302.13 444.2,304.3C444.6,307.56 445,313.3 445.4,313.3C445.8,313.3 446.2,309.92 446.6,306.8C447,303.68 447.4,297.6 447.8,294.6C448.07,292.6 448.33,291.8 448.6,291.8C448.87,291.8 449.13,294.78 449.4,296.2C449.67,297.62 449.93,298.34 450.2,300.3C450.63,303.48 451.07,311.6 451.5,311.6C451.9,311.6 452.3,308.1 452.7,306.8C452.97,305.93 453.23,306.43 453.5,305.1C453.83,303.43 454.17,297.8 454.5,297.8C454.83,297.8 455.17,301.5 455.5,302.7C455.77,303.66 456.03,303.54 456.3,304.3C456.7,305.44 457.1,308.4 457.5,308.4C457.93,308.4 458.37,293 458.8,293C459.2,293 459.6,295.31 460,298.7C460.53,303.21 461.07,316.7 461.6,316.7C462.9,316.7 464.2,286.1 465.5,286.1C466.5,286.1 467.5,321.8 468.5,321.8C469.4,321.8 470.3,287.7 471.2,287.7C472,287.7 472.8,312 473.6,312C474.7,312 475.8,298.2 476.9,298.2C477.7,298.2 478.5,302.72 479.3,303.9C480.13,305.12 480.97,305.4 481.8,305.4C482.2,305.4 482.6,301.6 483,301.6C483.7,301.6 484.4,315.6 485.1,315.6C485.83,315.6 486.57,289.5 487.3,289.5C488.1,289.5 488.9,316.2 489.7,316.2C490.73,316.2 491.77,286.4 492.8,286.4C493.6,286.4 494.4,315.6 495.2,315.6C496.13,315.6 497.07,290.1 498,290.1C498.8,290.1 499.6,313.2 500.4,313.2C501.4,313.2 502.4,293.7 503.4,293.7C503.7,293.7 504,296.52 504.3,299.2C504.93,304.85 505.57,318.7 506.2,318.7C507,318.7 507.8,281.6 508.6,281.6C509.6,281.6 510.6,311.4 511.6,311.4C512.63,311.4 513.67,296.2 514.7,296.2C515.23,296.2 515.77,304.1 516.3,304.1C516.87,304.1 517.43,294.9 518,294.9C518.5,294.9 519,307.7 519.5,307.7C520.13,307.7 520.77,305.3 521.4,305.3C522,305.3 522.6,306.5 523.2,306.5C523.9,306.5 524.6,286.4 525.3,286.4C526.1,286.4 526.9,316.2 527.7,316.2C528.43,316.2 529.17,303.65 529.9,299.2C530.5,295.55 531.1,291.9 531.7,291.9C532.5,291.9 533.3,314.4 534.1,314.4C534.83,314.4 535.57,289.8 536.3,289.8C536.67,289.8 537.03,295.43 537.4,298C537.8,300.8 538.2,305.9 538.6,305.9C539.23,305.9 539.87,300.43 540.5,299.8C541.1,299.2 541.7,299.2 542.3,299.2C543.3,299.2 544.3,313.2 545.3,313.2C546.13,313.2 546.97,288.9 547.8,288.9C548.33,288.9 548.87,296.19 549.4,300.4C549.87,304.09 550.33,312.6 550.8,312.6C551.83,312.6 552.87,292.5 553.9,292.5C554.5,292.5 555.1,305.3 555.7,305.3C556.3,305.3 556.9,304.03 557.5,303.5C558.3,302.8 559.1,301.6 559.9,301.6C560.53,301.6 561.17,310.1 561.8,310.1C562.6,310.1 563.4,287 564.2,287C565.1,287 566,316.2 566.9,316.2C567.93,316.2 568.97,283.4 570,283.4C570.83,283.4 571.67,320.5 572.5,320.5C573.3,320.5 574.1,284.6 574.9,284.6C575.6,284.6 576.3,311.4 577,311.4C577.8,311.4 578.6,301 579.4,301C580,301 580.6,301.87 581.2,302.8C582.03,304.1 582.87,307.7 583.7,307.7C584.3,307.7 584.9,292.5 585.5,292.5C586.2,292.5 586.9,311.4 587.6,311.4C588.7,311.4 589.8,299.8 590.9,299.8C591.33,299.8 591.77,300.34 592.2,301.5C592.67,302.74 593.13,307 593.6,307C594.23,307 594.87,303.9 595.5,303.9C596.03,303.9 596.57,305.1 597.1,305.1C597.57,305.1 598.03,300.3 598.5,300.3C599.1,300.3 599.7,311.2 600.3,311.2C601,311.2 601.7,291.2 602.4,291.2C603.2,291.2 604,317.3 604.8,317.3C605.87,317.3 606.93,291.2 608,291.2C608.97,291.2 609.93,313.1 610.9,313.1C611.63,313.1 612.37,296 613.1,296C613.9,296 614.7,300.06 615.5,302.7C616.23,305.12 616.97,311.2 617.7,311.2C618.4,311.2 619.1,299.7 619.8,299.7C620.5,299.7 621.2,310 621.9,310C622.7,310 623.5,297.2 624.3,297.2C625.1,297.2 625.9,312.4 626.7,312.4C627.77,312.4 628.83,288.1 629.9,288.1C630.63,288.1 631.37,316.4 632.1,316.4C632.97,316.4 633.83,294.2 634.7,294.2C635.67,294.2 636.63,310 637.6,310C638.63,310 639.67,287.5 640.7,287.5C641.4,287.5 642.1,320.4 642.8,320.4C643.53,320.4 644.27,285.1 645,285.1C646.07,285.1 647.13,311.5 648.2,311.5C649.33,311.5 650.47,294.2 651.6,294.2C652.23,294.2 652.87,310 653.5,310C654.17,310 654.83,298.5 655.5,298.5C656.23,298.5 656.97,308.8 657.7,308.8C658.83,308.8 659.97,299.47 661.1,294.8" fill="none" stroke="#111" stroke-width="1.2" stroke-linejoin="round"/></g><path d="M74.62,148L134.5,113.72L194.38,148L134.5,182.28Z" fill="none" stroke="#ebebeb" stroke-width="0.6"/><line x1="129.51" y1="122.29" x2="124.52" y2="122.29" stroke="#2a40e0" stroke-width="1.4"/><line x1="124.52" y1="122.29" x2="119.53" y2="122.29" stroke="#2a40e0" stroke-width="1.4"/><line x1="129.51" y1="122.29" x2="132" y2="118" stroke="#2a40e0" stroke-width="1.4"/><line x1="132" y1="118" x2="134.5" y2="113.72" stroke="#2a40e0" stroke-width="1.4"/><line x1="129.51" y1="122.29" x2="132" y2="126.58" stroke="#2a40e0" stroke-width="1.4"/><line x1="132" y1="126.58" x2="134.5" y2="130.86" stroke="#2a40e0" stroke-width="1.4"/><line x1="114.54" y1="130.86" x2="109.55" y2="130.86" stroke="#2a40e0" stroke-width="1.4"/><line x1="109.55" y1="130.86" x2="104.56" y2="130.86" stroke="#2a40e0" stroke-width="1.4"/><line x1="114.54" y1="130.86" x2="117.03" y2="126.58" stroke="#2a40e0" stroke-width="1.4"/><line x1="117.03" y1="126.58" x2="119.53" y2="122.29" stroke="#2a40e0" stroke-width="1.4"/><line x1="114.54" y1="130.86" x2="117.03" y2="135.15" stroke="#2a40e0" stroke-width="1.4"/><line x1="117.03" y1="135.15" x2="119.53" y2="139.43" stroke="#2a40e0" stroke-width="1.4"/><line x1="144.48" y1="130.86" x2="139.49" y2="130.86" stroke="#2a40e0" stroke-width="1.4"/><line x1="139.49" y1="130.86" x2="134.5" y2="130.86" stroke="#2a40e0" stroke-width="1.4"/><line x1="144.48" y1="130.86" x2="146.97" y2="126.58" stroke="#2a40e0" stroke-width="1.4"/><line x1="146.97" y1="126.58" x2="149.47" y2="122.29" stroke="#2a40e0" stroke-width="1.4"/><line x1="144.48" y1="130.86" x2="146.97" y2="135.15" stroke="#2a40e0" stroke-width="1.4"/><line x1="146.97" y1="135.15" x2="149.47" y2="139.43" stroke="#2a40e0" stroke-width="1.4"/><line x1="99.57" y1="139.43" x2="94.58" y2="139.43" stroke="#2a40e0" stroke-width="1.4"/><line x1="94.58" y1="139.43" x2="89.59" y2="139.43" stroke="#2a40e0" stroke-width="1.4"/><line x1="99.57" y1="139.43" x2="102.06" y2="135.15" stroke="#2a40e0" stroke-width="1.4"/><line x1="102.06" y1="135.15" x2="104.56" y2="130.86" stroke="#2a40e0" stroke-width="1.4"/><line x1="99.57" y1="139.43" x2="102.06" y2="143.72" stroke="#2a40e0" stroke-width="1.4"/><line x1="102.06" y1="143.72" x2="104.56" y2="148" stroke="#2a40e0" stroke-width="1.4"/><line x1="129.51" y1="139.43" x2="124.52" y2="139.43" stroke="#2a40e0" stroke-width="1.4"/><line x1="124.52" y1="139.43" x2="119.53" y2="139.43" stroke="#2a40e0" stroke-width="1.4"/><line x1="129.51" y1="139.43" x2="132" y2="135.15" stroke="#2a40e0" stroke-width="1.4"/><line x1="132" y1="135.15" x2="134.5" y2="130.86" stroke="#2a40e0" stroke-width="1.4"/><line x1="129.51" y1="139.43" x2="132" y2="143.72" stroke="#2a40e0" stroke-width="1.4"/><line x1="132" y1="143.72" x2="134.5" y2="148" stroke="#2a40e0" stroke-width="1.4"/><line x1="159.45" y1="139.43" x2="154.46" y2="139.43" stroke="#2a40e0" stroke-width="1.4"/><line x1="154.46" y1="139.43" x2="149.47" y2="139.43" stroke="#2a40e0" stroke-width="1.4"/><line x1="159.45" y1="139.43" x2="161.94" y2="135.15" stroke="#2a40e0" stroke-width="1.4"/><line x1="161.94" y1="135.15" x2="164.44" y2="130.86" stroke="#2a40e0" stroke-width="1.4"/><line x1="159.45" y1="139.43" x2="161.94" y2="143.72" stroke="#2a40e0" stroke-width="1.4"/><line x1="161.94" y1="143.72" x2="164.44" y2="148" stroke="#2a40e0" stroke-width="1.4"/><line x1="84.6" y1="148" x2="79.61" y2="148" stroke="#2a40e0" stroke-width="1.4"/><line x1="79.61" y1="148" x2="74.62" y2="148" stroke="#2a40e0" stroke-width="1.4"/><line x1="84.6" y1="148" x2="87.09" y2="143.72" stroke="#2a40e0" stroke-width="1.4"/><line x1="87.09" y1="143.72" x2="89.59" y2="139.43" stroke="#2a40e0" stroke-width="1.4"/><line x1="84.6" y1="148" x2="87.09" y2="152.28" stroke="#2a40e0" stroke-width="1.4"/><line x1="87.09" y1="152.28" x2="89.59" y2="156.57" stroke="#2a40e0" stroke-width="1.4"/><line x1="114.54" y1="148" x2="109.55" y2="148" stroke="#2a40e0" stroke-width="1.4"/><line x1="109.55" y1="148" x2="104.56" y2="148" stroke="#2a40e0" stroke-width="1.4"/><line x1="114.54" y1="148" x2="117.03" y2="143.72" stroke="#2a40e0" stroke-width="1.4"/><line x1="117.03" y1="143.72" x2="119.53" y2="139.43" stroke="#2a40e0" stroke-width="1.4"/><line x1="114.54" y1="148" x2="117.03" y2="152.28" stroke="#2a40e0" stroke-width="1.4"/><line x1="117.03" y1="152.28" x2="119.53" y2="156.57" stroke="#2a40e0" stroke-width="1.4"/><line x1="144.48" y1="148" x2="139.49" y2="148" stroke="#2a40e0" stroke-width="1.4"/><line x1="139.49" y1="148" x2="134.5" y2="148" stroke="#2a40e0" stroke-width="1.4"/><line x1="144.48" y1="148" x2="146.97" y2="143.72" stroke="#2a40e0" stroke-width="1.4"/><line x1="146.97" y1="143.72" x2="149.47" y2="139.43" stroke="#2a40e0" stroke-width="1.4"/><line x1="144.48" y1="148" x2="146.97" y2="152.28" stroke="#2a40e0" stroke-width="1.4"/><line x1="146.97" y1="152.28" x2="149.47" y2="156.57" stroke="#2a40e0" stroke-width="1.4"/><line x1="174.42" y1="148" x2="169.43" y2="148" stroke="#2a40e0" stroke-width="1.4"/><line x1="169.43" y1="148" x2="164.44" y2="148" stroke="#2a40e0" stroke-width="1.4"/><line x1="174.42" y1="148" x2="176.92" y2="143.72" stroke="#2a40e0" stroke-width="1.4"/><line x1="176.92" y1="143.72" x2="179.41" y2="139.43" stroke="#2a40e0" stroke-width="1.4"/><line x1="174.42" y1="148" x2="176.92" y2="152.28" stroke="#2a40e0" stroke-width="1.4"/><line x1="176.92" y1="152.28" x2="179.41" y2="156.57" stroke="#2a40e0" stroke-width="1.4"/><line x1="99.57" y1="156.57" x2="94.58" y2="156.57" stroke="#2a40e0" stroke-width="1.4"/><line x1="94.58" y1="156.57" x2="89.59" y2="156.57" stroke="#2a40e0" stroke-width="1.4"/><line x1="99.57" y1="156.57" x2="102.06" y2="152.28" stroke="#2a40e0" stroke-width="1.4"/><line x1="102.06" y1="152.28" x2="104.56" y2="148" stroke="#2a40e0" stroke-width="1.4"/><line x1="99.57" y1="156.57" x2="102.06" y2="160.85" stroke="#2a40e0" stroke-width="1.4"/><line x1="102.06" y1="160.85" x2="104.56" y2="165.14" stroke="#2a40e0" stroke-width="1.4"/><line x1="129.51" y1="156.57" x2="124.52" y2="156.57" stroke="#2a40e0" stroke-width="1.4"/><line x1="124.52" y1="156.57" x2="119.53" y2="156.57" stroke="#2a40e0" stroke-width="1.4"/><line x1="129.51" y1="156.57" x2="132" y2="152.28" stroke="#2a40e0" stroke-width="1.4"/><line x1="132" y1="152.28" x2="134.5" y2="148" stroke="#2a40e0" stroke-width="1.4"/><line x1="129.51" y1="156.57" x2="132" y2="160.85" stroke="#2a40e0" stroke-width="1.4"/><line x1="132" y1="160.85" x2="134.5" y2="165.14" stroke="#2a40e0" stroke-width="1.4"/><line x1="159.45" y1="156.57" x2="154.46" y2="156.57" stroke="#2a40e0" stroke-width="1.4"/><line x1="154.46" y1="156.57" x2="149.47" y2="156.57" stroke="#2a40e0" stroke-width="1.4"/><line x1="159.45" y1="156.57" x2="161.94" y2="152.28" stroke="#2a40e0" stroke-width="1.4"/><line x1="161.94" y1="152.28" x2="164.44" y2="148" stroke="#2a40e0" stroke-width="1.4"/><line x1="159.45" y1="156.57" x2="161.94" y2="160.85" stroke="#2a40e0" stroke-width="1.4"/><line x1="161.94" y1="160.85" x2="164.44" y2="165.14" stroke="#2a40e0" stroke-width="1.4"/><line x1="114.54" y1="165.14" x2="109.55" y2="165.14" stroke="#2a40e0" stroke-width="1.4"/><line x1="109.55" y1="165.14" x2="104.56" y2="165.14" stroke="#2a40e0" stroke-width="1.4"/><line x1="114.54" y1="165.14" x2="117.03" y2="160.85" stroke="#2a40e0" stroke-width="1.4"/><line x1="117.03" y1="160.85" x2="119.53" y2="156.57" stroke="#2a40e0" stroke-width="1.4"/><line x1="114.54" y1="165.14" x2="117.03" y2="169.43" stroke="#2a40e0" stroke-width="1.4"/><line x1="117.03" y1="169.43" x2="119.53" y2="173.71" stroke="#2a40e0" stroke-width="1.4"/><line x1="144.48" y1="165.14" x2="139.49" y2="165.14" stroke="#2a40e0" stroke-width="1.4"/><line x1="139.49" y1="165.14" x2="134.5" y2="165.14" stroke="#2a40e0" stroke-width="1.4"/><line x1="144.48" y1="165.14" x2="146.97" y2="160.85" stroke="#2a40e0" stroke-width="1.4"/><line x1="146.97" y1="160.85" x2="149.47" y2="156.57" stroke="#2a40e0" stroke-width="1.4"/><line x1="144.48" y1="165.14" x2="146.97" y2="169.43" stroke="#2a40e0" stroke-width="1.4"/><line x1="146.97" y1="169.43" x2="149.47" y2="173.71" stroke="#2a40e0" stroke-width="1.4"/><line x1="129.51" y1="173.71" x2="124.52" y2="173.71" stroke="#2a40e0" stroke-width="1.4"/><line x1="124.52" y1="173.71" x2="119.53" y2="173.71" stroke="#2a40e0" stroke-width="1.4"/><line x1="129.51" y1="173.71" x2="132" y2="169.43" stroke="#2a40e0" stroke-width="1.4"/><line x1="132" y1="169.43" x2="134.5" y2="165.14" stroke="#2a40e0" stroke-width="1.4"/><line x1="129.51" y1="173.71" x2="132" y2="178" stroke="#2a40e0" stroke-width="1.4"/><line x1="132" y1="178" x2="134.5" y2="182.28" stroke="#2a40e0" stroke-width="1.4"/><circle cx="164.44" cy="130.86" r="3.2" fill="url(#gSi)"/><circle cx="104.56" cy="148" r="3.2" fill="url(#gSi)"/><circle cx="134.5" cy="113.72" r="3.2" fill="url(#gSi)"/><circle cx="134.5" cy="165.14" r="3.2" fill="url(#gSi)"/><circle cx="119.53" cy="139.43" r="3.2" fill="url(#gSi)"/><circle cx="119.53" cy="156.57" r="3.2" fill="url(#gSi)"/><circle cx="164.44" cy="148" r="3.2" fill="url(#gSi)"/><circle cx="179.41" cy="139.43" r="3.2" fill="url(#gSi)"/><circle cx="74.62" cy="148" r="3.2" fill="url(#gSi)"/><circle cx="179.41" cy="156.57" r="3.2" fill="url(#gSi)"/><circle cx="104.56" cy="165.14" r="3.2" fill="url(#gSi)"/><circle cx="134.5" cy="130.86" r="3.2" fill="url(#gSi)"/><circle cx="149.47" cy="156.57" r="3.2" fill="url(#gSi)"/><circle cx="134.5" cy="182.28" r="3.2" fill="url(#gSi)"/><circle cx="89.59" cy="139.43" r="3.2" fill="url(#gSi)"/><circle cx="149.47" cy="139.43" r="3.2" fill="url(#gSi)"/><circle cx="89.59" cy="156.57" r="3.2" fill="url(#gSi)"/><circle cx="119.53" cy="122.29" r="3.2" fill="url(#gSi)"/><circle cx="119.53" cy="173.71" r="3.2" fill="url(#gSi)"/><circle cx="164.44" cy="165.14" r="3.2" fill="url(#gSi)"/><circle cx="104.56" cy="130.86" r="3.2" fill="url(#gSi)"/><circle cx="134.5" cy="148" r="3.2" fill="url(#gSi)"/><circle cx="149.47" cy="122.29" r="3.2" fill="url(#gSi)"/><circle cx="149.47" cy="173.71" r="3.2" fill="url(#gSi)"/><circle cx="194.38" cy="148" r="3.2" fill="url(#gSi)"/><circle cx="129.51" cy="122.29" r="3.35" fill="url(#gMoT)"/><circle cx="114.54" cy="130.86" r="3.35" fill="url(#gMoT)"/><circle cx="144.48" cy="130.86" r="3.35" fill="url(#gMoT)"/><circle cx="99.57" cy="139.43" r="3.35" fill="url(#gMoT)"/><circle cx="129.51" cy="139.43" r="3.35" fill="url(#gMoT)"/><circle cx="159.45" cy="139.43" r="3.35" fill="url(#gMoT)"/><circle cx="84.6" cy="148" r="3.35" fill="url(#gMoT)"/><circle cx="114.54" cy="148" r="3.35" fill="url(#gMoT)"/><circle cx="144.48" cy="148" r="3.35" fill="url(#gMoT)"/><circle cx="174.42" cy="148" r="3.35" fill="url(#gMoT)"/><circle cx="99.57" cy="156.57" r="3.35" fill="url(#gMoT)"/><circle cx="129.51" cy="156.57" r="3.35" fill="url(#gMoT)"/><circle cx="159.45" cy="156.57" r="3.35" fill="url(#gMoT)"/><circle cx="114.54" cy="165.14" r="3.35" fill="url(#gMoT)"/><circle cx="144.48" cy="165.14" r="3.35" fill="url(#gMoT)"/><circle cx="129.51" cy="173.71" r="3.35" fill="url(#gMoT)"/><line x1="213.6" y1="124.2" x2="216.85" y2="121.8" stroke="#2a40e0" stroke-width="2.0"/><line x1="216.85" y1="121.8" x2="220.1" y2="119.4" stroke="#c4c8de" stroke-width="2.0"/><line x1="233.5" y1="124.2" x2="226.8" y2="121.8" stroke="#2a40e0" stroke-width="2.0"/><line x1="226.8" y1="121.8" x2="220.1" y2="119.4" stroke="#c4c8de" stroke-width="2.0"/><line x1="212.9" y1="172.5" x2="216.15" y2="174.5" stroke="#2a40e0" stroke-width="2.0"/><line x1="216.15" y1="174.5" x2="219.4" y2="176.5" stroke="#c4c8de" stroke-width="2.0"/><line x1="232.8" y1="172.5" x2="226.1" y2="174.5" stroke="#2a40e0" stroke-width="2.0"/><line x1="226.1" y1="174.5" x2="219.4" y2="176.5" stroke="#c4c8de" stroke-width="2.0"/><line x1="233.5" y1="124.2" x2="236.75" y2="121.8" stroke="#2a40e0" stroke-width="2.0"/><line x1="236.75" y1="121.8" x2="240" y2="119.4" stroke="#c4c8de" stroke-width="2.0"/><line x1="253.4" y1="124.2" x2="246.7" y2="121.8" stroke="#2a40e0" stroke-width="2.0"/><line x1="246.7" y1="121.8" x2="240" y2="119.4" stroke="#c4c8de" stroke-width="2.0"/><line x1="232.8" y1="172.5" x2="236.05" y2="174.5" stroke="#2a40e0" stroke-width="2.0"/><line x1="236.05" y1="174.5" x2="239.3" y2="176.5" stroke="#c4c8de" stroke-width="2.0"/><line x1="252.7" y1="172.5" x2="246" y2="174.5" stroke="#2a40e0" stroke-width="2.0"/><line x1="246" y1="174.5" x2="239.3" y2="176.5" stroke="#c4c8de" stroke-width="2.0"/><line x1="253.4" y1="124.2" x2="256.65" y2="121.8" stroke="#2a40e0" stroke-width="2.0"/><line x1="256.65" y1="121.8" x2="259.9" y2="119.4" stroke="#c4c8de" stroke-width="2.0"/><line x1="273.3" y1="124.2" x2="266.6" y2="121.8" stroke="#2a40e0" stroke-width="2.0"/><line x1="266.6" y1="121.8" x2="259.9" y2="119.4" stroke="#c4c8de" stroke-width="2.0"/><line x1="252.7" y1="172.5" x2="255.95" y2="174.5" stroke="#2a40e0" stroke-width="2.0"/><line x1="255.95" y1="174.5" x2="259.2" y2="176.5" stroke="#c4c8de" stroke-width="2.0"/><line x1="272.6" y1="172.5" x2="265.9" y2="174.5" stroke="#2a40e0" stroke-width="2.0"/><line x1="265.9" y1="174.5" x2="259.2" y2="176.5" stroke="#c4c8de" stroke-width="2.0"/><line x1="273.3" y1="124.2" x2="276.55" y2="121.8" stroke="#2a40e0" stroke-width="2.0"/><line x1="276.55" y1="121.8" x2="279.8" y2="119.4" stroke="#c4c8de" stroke-width="2.0"/><line x1="293.2" y1="124.2" x2="286.5" y2="121.8" stroke="#2a40e0" stroke-width="2.0"/><line x1="286.5" y1="121.8" x2="279.8" y2="119.4" stroke="#c4c8de" stroke-width="2.0"/><line x1="272.6" y1="172.5" x2="275.85" y2="174.5" stroke="#2a40e0" stroke-width="2.0"/><line x1="275.85" y1="174.5" x2="279.1" y2="176.5" stroke="#c4c8de" stroke-width="2.0"/><line x1="292.5" y1="172.5" x2="285.8" y2="174.5" stroke="#2a40e0" stroke-width="2.0"/><line x1="285.8" y1="174.5" x2="279.1" y2="176.5" stroke="#c4c8de" stroke-width="2.0"/><line x1="213.6" y1="124.2" x2="213.6" y2="131.4" stroke="#2a40e0" stroke-width="2.0"/><line x1="213.6" y1="131.4" x2="213.6" y2="138.6" stroke="#c4c8de" stroke-width="2.0"/><line x1="212.9" y1="172.5" x2="212.9" y2="165.4" stroke="#2a40e0" stroke-width="2.0"/><line x1="212.9" y1="165.4" x2="212.9" y2="158.3" stroke="#c4c8de" stroke-width="2.0"/><line x1="233.5" y1="124.2" x2="233.5" y2="131.4" stroke="#2a40e0" stroke-width="2.0"/><line x1="233.5" y1="131.4" x2="233.5" y2="138.6" stroke="#c4c8de" stroke-width="2.0"/><line x1="232.8" y1="172.5" x2="232.8" y2="165.4" stroke="#2a40e0" stroke-width="2.0"/><line x1="232.8" y1="165.4" x2="232.8" y2="158.3" stroke="#c4c8de" stroke-width="2.0"/><line x1="253.4" y1="124.2" x2="253.4" y2="131.4" stroke="#2a40e0" stroke-width="2.0"/><line x1="253.4" y1="131.4" x2="253.4" y2="138.6" stroke="#c4c8de" stroke-width="2.0"/><line x1="252.7" y1="172.5" x2="252.7" y2="165.4" stroke="#2a40e0" stroke-width="2.0"/><line x1="252.7" y1="165.4" x2="252.7" y2="158.3" stroke="#c4c8de" stroke-width="2.0"/><line x1="273.3" y1="124.2" x2="273.3" y2="131.4" stroke="#2a40e0" stroke-width="2.0"/><line x1="273.3" y1="131.4" x2="273.3" y2="138.6" stroke="#c4c8de" stroke-width="2.0"/><line x1="272.6" y1="172.5" x2="272.6" y2="165.4" stroke="#2a40e0" stroke-width="2.0"/><line x1="272.6" y1="165.4" x2="272.6" y2="158.3" stroke="#c4c8de" stroke-width="2.0"/><line x1="293.2" y1="124.2" x2="293.2" y2="131.4" stroke="#2a40e0" stroke-width="2.0"/><line x1="293.2" y1="131.4" x2="293.2" y2="138.6" stroke="#c4c8de" stroke-width="2.0"/><line x1="292.5" y1="172.5" x2="292.5" y2="165.4" stroke="#2a40e0" stroke-width="2.0"/><line x1="292.5" y1="165.4" x2="292.5" y2="158.3" stroke="#c4c8de" stroke-width="2.0"/><line x1="220.2" y1="148.1" x2="216.9" y2="143.35" stroke="#b08aa2" stroke-width="2.0"/><line x1="216.9" y1="143.35" x2="213.6" y2="138.6" stroke="#c4c8de" stroke-width="2.0"/><line x1="220.2" y1="148.1" x2="216.55" y2="153.2" stroke="#b08aa2" stroke-width="2.0"/><line x1="216.55" y1="153.2" x2="212.9" y2="158.3" stroke="#c4c8de" stroke-width="2.0"/><line x1="220.2" y1="148.1" x2="226.85" y2="143.35" stroke="#b08aa2" stroke-width="2.0"/><line x1="226.85" y1="143.35" x2="233.5" y2="138.6" stroke="#c4c8de" stroke-width="2.0"/><line x1="220.2" y1="148.1" x2="226.5" y2="153.2" stroke="#b08aa2" stroke-width="2.0"/><line x1="226.5" y1="153.2" x2="232.8" y2="158.3" stroke="#c4c8de" stroke-width="2.0"/><line x1="240.1" y1="148.1" x2="236.8" y2="143.35" stroke="#b08aa2" stroke-width="2.0"/><line x1="236.8" y1="143.35" x2="233.5" y2="138.6" stroke="#c4c8de" stroke-width="2.0"/><line x1="240.1" y1="148.1" x2="236.45" y2="153.2" stroke="#b08aa2" stroke-width="2.0"/><line x1="236.45" y1="153.2" x2="232.8" y2="158.3" stroke="#c4c8de" stroke-width="2.0"/><line x1="240.1" y1="148.1" x2="246.75" y2="143.35" stroke="#b08aa2" stroke-width="2.0"/><line x1="246.75" y1="143.35" x2="253.4" y2="138.6" stroke="#c4c8de" stroke-width="2.0"/><line x1="240.1" y1="148.1" x2="246.4" y2="153.2" stroke="#b08aa2" stroke-width="2.0"/><line x1="246.4" y1="153.2" x2="252.7" y2="158.3" stroke="#c4c8de" stroke-width="2.0"/><line x1="260" y1="148.1" x2="256.7" y2="143.35" stroke="#b08aa2" stroke-width="2.0"/><line x1="256.7" y1="143.35" x2="253.4" y2="138.6" stroke="#c4c8de" stroke-width="2.0"/><line x1="260" y1="148.1" x2="256.35" y2="153.2" stroke="#b08aa2" stroke-width="2.0"/><line x1="256.35" y1="153.2" x2="252.7" y2="158.3" stroke="#c4c8de" stroke-width="2.0"/><line x1="260" y1="148.1" x2="266.65" y2="143.35" stroke="#b08aa2" stroke-width="2.0"/><line x1="266.65" y1="143.35" x2="273.3" y2="138.6" stroke="#c4c8de" stroke-width="2.0"/><line x1="260" y1="148.1" x2="266.3" y2="153.2" stroke="#b08aa2" stroke-width="2.0"/><line x1="266.3" y1="153.2" x2="272.6" y2="158.3" stroke="#c4c8de" stroke-width="2.0"/><line x1="279.9" y1="148.1" x2="276.6" y2="143.35" stroke="#b08aa2" stroke-width="2.0"/><line x1="276.6" y1="143.35" x2="273.3" y2="138.6" stroke="#c4c8de" stroke-width="2.0"/><line x1="279.9" y1="148.1" x2="276.25" y2="153.2" stroke="#b08aa2" stroke-width="2.0"/><line x1="276.25" y1="153.2" x2="272.6" y2="158.3" stroke="#c4c8de" stroke-width="2.0"/><line x1="279.9" y1="148.1" x2="286.55" y2="143.35" stroke="#b08aa2" stroke-width="2.0"/><line x1="286.55" y1="143.35" x2="293.2" y2="138.6" stroke="#c4c8de" stroke-width="2.0"/><line x1="279.9" y1="148.1" x2="286.2" y2="153.2" stroke="#b08aa2" stroke-width="2.0"/><line x1="286.2" y1="153.2" x2="292.5" y2="158.3" stroke="#c4c8de" stroke-width="2.0"/><circle cx="220.1" cy="119.4" r="2.4" fill="url(#gNl)"/><circle cx="240" cy="119.4" r="2.4" fill="url(#gNl)"/><circle cx="259.9" cy="119.4" r="2.4" fill="url(#gNl)"/><circle cx="279.8" cy="119.4" r="2.4" fill="url(#gNl)"/><circle cx="213.6" cy="124.2" r="4" fill="url(#gSi)"/><circle cx="213.6" cy="138.6" r="2.4" fill="url(#gNl)"/><circle cx="212.9" cy="158.3" r="2.4" fill="url(#gNl)"/><circle cx="233.5" cy="124.2" r="4" fill="url(#gSi)"/><circle cx="233.5" cy="138.6" r="2.4" fill="url(#gNl)"/><circle cx="232.8" cy="158.3" r="2.4" fill="url(#gNl)"/><circle cx="253.4" cy="124.2" r="4" fill="url(#gSi)"/><circle cx="253.4" cy="138.6" r="2.4" fill="url(#gNl)"/><circle cx="252.7" cy="158.3" r="2.4" fill="url(#gNl)"/><circle cx="273.3" cy="124.2" r="4" fill="url(#gSi)"/><circle cx="273.3" cy="138.6" r="2.4" fill="url(#gNl)"/><circle cx="272.6" cy="158.3" r="2.4" fill="url(#gNl)"/><circle cx="293.2" cy="124.2" r="4" fill="url(#gSi)"/><circle cx="293.2" cy="138.6" r="2.4" fill="url(#gNl)"/><circle cx="292.5" cy="158.3" r="2.4" fill="url(#gNl)"/><circle cx="220.2" cy="148.1" r="4.6" fill="url(#gMo)"/><circle cx="240.1" cy="148.1" r="4.6" fill="url(#gMo)"/><circle cx="260" cy="148.1" r="4.6" fill="url(#gMo)"/><circle cx="279.9" cy="148.1" r="4.6" fill="url(#gMo)"/><circle cx="212.9" cy="172.5" r="4" fill="url(#gSi)"/><circle cx="232.8" cy="172.5" r="4" fill="url(#gSi)"/><circle cx="252.7" cy="172.5" r="4" fill="url(#gSi)"/><circle cx="272.6" cy="172.5" r="4" fill="url(#gSi)"/><circle cx="292.5" cy="172.5" r="4" fill="url(#gSi)"/><circle cx="219.4" cy="176.5" r="2.4" fill="url(#gNl)"/><circle cx="239.3" cy="176.5" r="2.4" fill="url(#gNl)"/><circle cx="259.2" cy="176.5" r="2.4" fill="url(#gNl)"/><circle cx="279.1" cy="176.5" r="2.4" fill="url(#gNl)"/><path d="M442.48,144.4L502.9,109.36L563.32,144.4L502.9,179.44Z" fill="none" stroke="#ebebeb" stroke-width="0.6"/><line x1="497.86" y1="118.12" x2="492.83" y2="118.12" stroke="#8078b4" stroke-width="1.25"/><line x1="492.83" y1="118.12" x2="487.79" y2="118.12" stroke="#8078b4" stroke-width="1.25"/><line x1="497.86" y1="118.12" x2="500.38" y2="113.74" stroke="#8078b4" stroke-width="1.25"/><line x1="500.38" y1="113.74" x2="502.9" y2="109.36" stroke="#8078b4" stroke-width="1.25"/><line x1="497.86" y1="118.12" x2="500.38" y2="122.5" stroke="#8078b4" stroke-width="1.25"/><line x1="500.38" y1="122.5" x2="502.9" y2="126.88" stroke="#8078b4" stroke-width="1.25"/><line x1="482.76" y1="126.88" x2="477.73" y2="126.88" stroke="#8078b4" stroke-width="1.25"/><line x1="477.73" y1="126.88" x2="472.69" y2="126.88" stroke="#8078b4" stroke-width="1.25"/><line x1="482.76" y1="126.88" x2="485.28" y2="122.5" stroke="#8078b4" stroke-width="1.25"/><line x1="485.28" y1="122.5" x2="487.79" y2="118.12" stroke="#8078b4" stroke-width="1.25"/><line x1="482.76" y1="126.88" x2="485.28" y2="131.26" stroke="#8078b4" stroke-width="1.25"/><line x1="485.28" y1="131.26" x2="487.79" y2="135.64" stroke="#8078b4" stroke-width="1.25"/><line x1="512.97" y1="126.88" x2="507.94" y2="126.88" stroke="#8078b4" stroke-width="1.25"/><line x1="507.94" y1="126.88" x2="502.9" y2="126.88" stroke="#8078b4" stroke-width="1.25"/><line x1="512.97" y1="126.88" x2="515.49" y2="122.5" stroke="#8078b4" stroke-width="1.25"/><line x1="515.49" y1="122.5" x2="518" y2="118.12" stroke="#8078b4" stroke-width="1.25"/><line x1="512.97" y1="126.88" x2="515.49" y2="131.26" stroke="#8078b4" stroke-width="1.25"/><line x1="515.49" y1="131.26" x2="518" y2="135.64" stroke="#8078b4" stroke-width="1.25"/><line x1="467.65" y1="135.64" x2="462.62" y2="135.64" stroke="#8078b4" stroke-width="1.25"/><line x1="462.62" y1="135.64" x2="457.58" y2="135.64" stroke="#8078b4" stroke-width="1.25"/><line x1="467.65" y1="135.64" x2="470.17" y2="131.26" stroke="#8078b4" stroke-width="1.25"/><line x1="470.17" y1="131.26" x2="472.69" y2="126.88" stroke="#8078b4" stroke-width="1.25"/><line x1="467.65" y1="135.64" x2="470.17" y2="140.02" stroke="#8078b4" stroke-width="1.25"/><line x1="470.17" y1="140.02" x2="472.69" y2="144.4" stroke="#8078b4" stroke-width="1.25"/><line x1="497.86" y1="135.64" x2="492.83" y2="135.64" stroke="#8078b4" stroke-width="1.25"/><line x1="492.83" y1="135.64" x2="487.79" y2="135.64" stroke="#8078b4" stroke-width="1.25"/><line x1="497.86" y1="135.64" x2="500.38" y2="131.26" stroke="#8078b4" stroke-width="1.25"/><line x1="500.38" y1="131.26" x2="502.9" y2="126.88" stroke="#8078b4" stroke-width="1.25"/><line x1="497.86" y1="135.64" x2="500.38" y2="140.02" stroke="#8078b4" stroke-width="1.25"/><line x1="500.38" y1="140.02" x2="502.9" y2="144.4" stroke="#8078b4" stroke-width="1.25"/><line x1="528.07" y1="135.64" x2="523.04" y2="135.64" stroke="#8078b4" stroke-width="1.25"/><line x1="523.04" y1="135.64" x2="518" y2="135.64" stroke="#8078b4" stroke-width="1.25"/><line x1="528.07" y1="135.64" x2="530.59" y2="131.26" stroke="#8078b4" stroke-width="1.25"/><line x1="530.59" y1="131.26" x2="533.11" y2="126.88" stroke="#8078b4" stroke-width="1.25"/><line x1="528.07" y1="135.64" x2="530.59" y2="140.02" stroke="#8078b4" stroke-width="1.25"/><line x1="530.59" y1="140.02" x2="533.11" y2="144.4" stroke="#8078b4" stroke-width="1.25"/><line x1="452.55" y1="144.4" x2="447.51" y2="144.4" stroke="#8078b4" stroke-width="1.25"/><line x1="447.51" y1="144.4" x2="442.48" y2="144.4" stroke="#8078b4" stroke-width="1.25"/><line x1="452.55" y1="144.4" x2="455.07" y2="140.02" stroke="#8078b4" stroke-width="1.25"/><line x1="455.07" y1="140.02" x2="457.58" y2="135.64" stroke="#8078b4" stroke-width="1.25"/><line x1="452.55" y1="144.4" x2="455.07" y2="148.78" stroke="#8078b4" stroke-width="1.25"/><line x1="455.07" y1="148.78" x2="457.58" y2="153.16" stroke="#8078b4" stroke-width="1.25"/><line x1="482.76" y1="144.4" x2="477.73" y2="144.4" stroke="#8078b4" stroke-width="1.25"/><line x1="477.73" y1="144.4" x2="472.69" y2="144.4" stroke="#8078b4" stroke-width="1.25"/><line x1="482.76" y1="144.4" x2="485.28" y2="140.02" stroke="#8078b4" stroke-width="1.25"/><line x1="485.28" y1="140.02" x2="487.79" y2="135.64" stroke="#8078b4" stroke-width="1.25"/><line x1="482.76" y1="144.4" x2="485.28" y2="148.78" stroke="#8078b4" stroke-width="1.25"/><line x1="485.28" y1="148.78" x2="487.79" y2="153.16" stroke="#8078b4" stroke-width="1.25"/><line x1="512.97" y1="144.4" x2="507.94" y2="144.4" stroke="#8078b4" stroke-width="1.25"/><line x1="507.94" y1="144.4" x2="502.9" y2="144.4" stroke="#8078b4" stroke-width="1.25"/><line x1="512.97" y1="144.4" x2="515.49" y2="140.02" stroke="#8078b4" stroke-width="1.25"/><line x1="515.49" y1="140.02" x2="518" y2="135.64" stroke="#8078b4" stroke-width="1.25"/><line x1="512.97" y1="144.4" x2="515.49" y2="148.78" stroke="#8078b4" stroke-width="1.25"/><line x1="515.49" y1="148.78" x2="518" y2="153.16" stroke="#8078b4" stroke-width="1.25"/><line x1="543.18" y1="144.4" x2="538.14" y2="144.4" stroke="#8078b4" stroke-width="1.25"/><line x1="538.14" y1="144.4" x2="533.11" y2="144.4" stroke="#8078b4" stroke-width="1.25"/><line x1="543.18" y1="144.4" x2="545.7" y2="140.02" stroke="#8078b4" stroke-width="1.25"/><line x1="545.7" y1="140.02" x2="548.21" y2="135.64" stroke="#8078b4" stroke-width="1.25"/><line x1="543.18" y1="144.4" x2="545.7" y2="148.78" stroke="#8078b4" stroke-width="1.25"/><line x1="545.7" y1="148.78" x2="548.21" y2="153.16" stroke="#8078b4" stroke-width="1.25"/><line x1="467.65" y1="153.16" x2="462.62" y2="153.16" stroke="#8078b4" stroke-width="1.25"/><line x1="462.62" y1="153.16" x2="457.58" y2="153.16" stroke="#8078b4" stroke-width="1.25"/><line x1="467.65" y1="153.16" x2="470.17" y2="148.78" stroke="#8078b4" stroke-width="1.25"/><line x1="470.17" y1="148.78" x2="472.69" y2="144.4" stroke="#8078b4" stroke-width="1.25"/><line x1="467.65" y1="153.16" x2="470.17" y2="157.54" stroke="#8078b4" stroke-width="1.25"/><line x1="470.17" y1="157.54" x2="472.69" y2="161.92" stroke="#8078b4" stroke-width="1.25"/><line x1="497.86" y1="153.16" x2="492.83" y2="153.16" stroke="#8078b4" stroke-width="1.25"/><line x1="492.83" y1="153.16" x2="487.79" y2="153.16" stroke="#8078b4" stroke-width="1.25"/><line x1="497.86" y1="153.16" x2="500.38" y2="148.78" stroke="#8078b4" stroke-width="1.25"/><line x1="500.38" y1="148.78" x2="502.9" y2="144.4" stroke="#8078b4" stroke-width="1.25"/><line x1="497.86" y1="153.16" x2="500.38" y2="157.54" stroke="#8078b4" stroke-width="1.25"/><line x1="500.38" y1="157.54" x2="502.9" y2="161.92" stroke="#8078b4" stroke-width="1.25"/><line x1="528.07" y1="153.16" x2="523.04" y2="153.16" stroke="#8078b4" stroke-width="1.25"/><line x1="523.04" y1="153.16" x2="518" y2="153.16" stroke="#8078b4" stroke-width="1.25"/><line x1="528.07" y1="153.16" x2="530.59" y2="148.78" stroke="#8078b4" stroke-width="1.25"/><line x1="530.59" y1="148.78" x2="533.11" y2="144.4" stroke="#8078b4" stroke-width="1.25"/><line x1="528.07" y1="153.16" x2="530.59" y2="157.54" stroke="#8078b4" stroke-width="1.25"/><line x1="530.59" y1="157.54" x2="533.11" y2="161.92" stroke="#8078b4" stroke-width="1.25"/><line x1="482.76" y1="161.92" x2="477.73" y2="161.92" stroke="#8078b4" stroke-width="1.25"/><line x1="477.73" y1="161.92" x2="472.69" y2="161.92" stroke="#8078b4" stroke-width="1.25"/><line x1="482.76" y1="161.92" x2="485.28" y2="157.54" stroke="#8078b4" stroke-width="1.25"/><line x1="485.28" y1="157.54" x2="487.79" y2="153.16" stroke="#8078b4" stroke-width="1.25"/><line x1="482.76" y1="161.92" x2="485.28" y2="166.3" stroke="#8078b4" stroke-width="1.25"/><line x1="485.28" y1="166.3" x2="487.79" y2="170.68" stroke="#8078b4" stroke-width="1.25"/><line x1="512.97" y1="161.92" x2="507.94" y2="161.92" stroke="#8078b4" stroke-width="1.25"/><line x1="507.94" y1="161.92" x2="502.9" y2="161.92" stroke="#8078b4" stroke-width="1.25"/><line x1="512.97" y1="161.92" x2="515.49" y2="157.54" stroke="#8078b4" stroke-width="1.25"/><line x1="515.49" y1="157.54" x2="518" y2="153.16" stroke="#8078b4" stroke-width="1.25"/><line x1="512.97" y1="161.92" x2="515.49" y2="166.3" stroke="#8078b4" stroke-width="1.25"/><line x1="515.49" y1="166.3" x2="518" y2="170.68" stroke="#8078b4" stroke-width="1.25"/><line x1="497.86" y1="170.68" x2="492.83" y2="170.68" stroke="#8078b4" stroke-width="1.25"/><line x1="492.83" y1="170.68" x2="487.79" y2="170.68" stroke="#8078b4" stroke-width="1.25"/><line x1="497.86" y1="170.68" x2="500.38" y2="166.3" stroke="#8078b4" stroke-width="1.25"/><line x1="500.38" y1="166.3" x2="502.9" y2="161.92" stroke="#8078b4" stroke-width="1.25"/><line x1="497.86" y1="170.68" x2="500.38" y2="175.06" stroke="#8078b4" stroke-width="1.25"/><line x1="500.38" y1="175.06" x2="502.9" y2="179.44" stroke="#8078b4" stroke-width="1.25"/><circle cx="533.11" cy="126.88" r="3.2" fill="url(#gGeT)"/><circle cx="472.69" cy="144.4" r="3.2" fill="url(#gGeT)"/><circle cx="502.9" cy="109.36" r="3.2" fill="url(#gGeT)"/><circle cx="502.9" cy="161.92" r="3.2" fill="url(#gGeT)"/><circle cx="487.79" cy="135.64" r="3.2" fill="url(#gGeT)"/><circle cx="487.79" cy="153.16" r="3.2" fill="url(#gGeT)"/><circle cx="533.11" cy="144.4" r="3.2" fill="url(#gGeT)"/><circle cx="548.21" cy="135.64" r="3.2" fill="url(#gGeT)"/><circle cx="442.48" cy="144.4" r="3.2" fill="url(#gGeT)"/><circle cx="548.21" cy="153.16" r="3.2" fill="url(#gGeT)"/><circle cx="472.69" cy="161.92" r="3.2" fill="url(#gGeT)"/><circle cx="502.9" cy="126.88" r="3.2" fill="url(#gGeT)"/><circle cx="518" cy="153.16" r="3.2" fill="url(#gGeT)"/><circle cx="502.9" cy="179.44" r="3.2" fill="url(#gGeT)"/><circle cx="457.58" cy="135.64" r="3.2" fill="url(#gGeT)"/><circle cx="518" cy="135.64" r="3.2" fill="url(#gGeT)"/><circle cx="457.58" cy="153.16" r="3.2" fill="url(#gGeT)"/><circle cx="487.79" cy="118.12" r="3.2" fill="url(#gGeT)"/><circle cx="487.79" cy="170.68" r="3.2" fill="url(#gGeT)"/><circle cx="533.11" cy="161.92" r="3.2" fill="url(#gGeT)"/><circle cx="472.69" cy="126.88" r="3.2" fill="url(#gGeT)"/><circle cx="502.9" cy="144.4" r="3.2" fill="url(#gGeT)"/><circle cx="518" cy="118.12" r="3.2" fill="url(#gGeT)"/><circle cx="518" cy="170.68" r="3.2" fill="url(#gGeT)"/><circle cx="563.32" cy="144.4" r="3.2" fill="url(#gGeT)"/><circle cx="497.86" cy="118.12" r="3.35" fill="url(#gMoTb)"/><circle cx="482.76" cy="126.88" r="3.35" fill="url(#gMoTb)"/><circle cx="512.97" cy="126.88" r="3.35" fill="url(#gMoTb)"/><circle cx="467.65" cy="135.64" r="3.35" fill="url(#gMoTb)"/><circle cx="497.86" cy="135.64" r="3.35" fill="url(#gMoTb)"/><circle cx="528.07" cy="135.64" r="3.35" fill="url(#gMoTb)"/><circle cx="452.55" cy="144.4" r="3.35" fill="url(#gMoTb)"/><circle cx="482.76" cy="144.4" r="3.35" fill="url(#gMoTb)"/><circle cx="512.97" cy="144.4" r="3.35" fill="url(#gMoTb)"/><circle cx="543.18" cy="144.4" r="3.35" fill="url(#gMoTb)"/><circle cx="467.65" cy="153.16" r="3.35" fill="url(#gMoTb)"/><circle cx="497.86" cy="153.16" r="3.35" fill="url(#gMoTb)"/><circle cx="528.07" cy="153.16" r="3.35" fill="url(#gMoTb)"/><circle cx="482.76" cy="161.92" r="3.35" fill="url(#gMoTb)"/><circle cx="512.97" cy="161.92" r="3.35" fill="url(#gMoTb)"/><circle cx="497.86" cy="170.68" r="3.35" fill="url(#gMoTb)"/><line x1="577.8" y1="120.4" x2="581.3" y2="118" stroke="#8078b4" stroke-width="2.0"/><line x1="581.3" y1="118" x2="584.8" y2="115.6" stroke="#c4c8de" stroke-width="2.0"/><line x1="597.9" y1="120.4" x2="591.35" y2="118" stroke="#8078b4" stroke-width="2.0"/><line x1="591.35" y1="118" x2="584.8" y2="115.6" stroke="#c4c8de" stroke-width="2.0"/><line x1="577.5" y1="168" x2="581" y2="170.55" stroke="#8078b4" stroke-width="2.0"/><line x1="581" y1="170.55" x2="584.5" y2="173.1" stroke="#c4c8de" stroke-width="2.0"/><line x1="597.6" y1="168" x2="591.05" y2="170.55" stroke="#8078b4" stroke-width="2.0"/><line x1="591.05" y1="170.55" x2="584.5" y2="173.1" stroke="#c4c8de" stroke-width="2.0"/><line x1="597.9" y1="120.4" x2="601.4" y2="118" stroke="#8078b4" stroke-width="2.0"/><line x1="601.4" y1="118" x2="604.9" y2="115.6" stroke="#c4c8de" stroke-width="2.0"/><line x1="618" y1="120.4" x2="611.45" y2="118" stroke="#8078b4" stroke-width="2.0"/><line x1="611.45" y1="118" x2="604.9" y2="115.6" stroke="#c4c8de" stroke-width="2.0"/><line x1="597.6" y1="168" x2="601.1" y2="170.55" stroke="#8078b4" stroke-width="2.0"/><line x1="601.1" y1="170.55" x2="604.6" y2="173.1" stroke="#c4c8de" stroke-width="2.0"/><line x1="617.7" y1="168" x2="611.15" y2="170.55" stroke="#8078b4" stroke-width="2.0"/><line x1="611.15" y1="170.55" x2="604.6" y2="173.1" stroke="#c4c8de" stroke-width="2.0"/><line x1="618" y1="120.4" x2="621.5" y2="118" stroke="#8078b4" stroke-width="2.0"/><line x1="621.5" y1="118" x2="625" y2="115.6" stroke="#c4c8de" stroke-width="2.0"/><line x1="638.1" y1="120.4" x2="631.55" y2="118" stroke="#8078b4" stroke-width="2.0"/><line x1="631.55" y1="118" x2="625" y2="115.6" stroke="#c4c8de" stroke-width="2.0"/><line x1="617.7" y1="168" x2="621.2" y2="170.55" stroke="#8078b4" stroke-width="2.0"/><line x1="621.2" y1="170.55" x2="624.7" y2="173.1" stroke="#c4c8de" stroke-width="2.0"/><line x1="637.8" y1="168" x2="631.25" y2="170.55" stroke="#8078b4" stroke-width="2.0"/><line x1="631.25" y1="170.55" x2="624.7" y2="173.1" stroke="#c4c8de" stroke-width="2.0"/><line x1="638.1" y1="120.4" x2="641.6" y2="118" stroke="#8078b4" stroke-width="2.0"/><line x1="641.6" y1="118" x2="645.1" y2="115.6" stroke="#c4c8de" stroke-width="2.0"/><line x1="658.2" y1="120.4" x2="651.65" y2="118" stroke="#8078b4" stroke-width="2.0"/><line x1="651.65" y1="118" x2="645.1" y2="115.6" stroke="#c4c8de" stroke-width="2.0"/><line x1="637.8" y1="168" x2="641.3" y2="170.55" stroke="#8078b4" stroke-width="2.0"/><line x1="641.3" y1="170.55" x2="644.8" y2="173.1" stroke="#c4c8de" stroke-width="2.0"/><line x1="657.9" y1="168" x2="651.35" y2="170.55" stroke="#8078b4" stroke-width="2.0"/><line x1="651.35" y1="170.55" x2="644.8" y2="173.1" stroke="#c4c8de" stroke-width="2.0"/><line x1="577.8" y1="120.4" x2="577.8" y2="127.55" stroke="#8078b4" stroke-width="2.0"/><line x1="577.8" y1="127.55" x2="577.8" y2="134.7" stroke="#c4c8de" stroke-width="2.0"/><line x1="577.5" y1="168" x2="577.5" y2="160.85" stroke="#8078b4" stroke-width="2.0"/><line x1="577.5" y1="160.85" x2="577.5" y2="153.7" stroke="#c4c8de" stroke-width="2.0"/><line x1="597.9" y1="120.4" x2="597.9" y2="127.55" stroke="#8078b4" stroke-width="2.0"/><line x1="597.9" y1="127.55" x2="597.9" y2="134.7" stroke="#c4c8de" stroke-width="2.0"/><line x1="597.6" y1="168" x2="597.6" y2="160.85" stroke="#8078b4" stroke-width="2.0"/><line x1="597.6" y1="160.85" x2="597.6" y2="153.7" stroke="#c4c8de" stroke-width="2.0"/><line x1="618" y1="120.4" x2="618" y2="127.55" stroke="#8078b4" stroke-width="2.0"/><line x1="618" y1="127.55" x2="618" y2="134.7" stroke="#c4c8de" stroke-width="2.0"/><line x1="617.7" y1="168" x2="617.7" y2="160.85" stroke="#8078b4" stroke-width="2.0"/><line x1="617.7" y1="160.85" x2="617.7" y2="153.7" stroke="#c4c8de" stroke-width="2.0"/><line x1="638.1" y1="120.4" x2="638.1" y2="127.55" stroke="#8078b4" stroke-width="2.0"/><line x1="638.1" y1="127.55" x2="638.1" y2="134.7" stroke="#c4c8de" stroke-width="2.0"/><line x1="637.8" y1="168" x2="637.8" y2="160.85" stroke="#8078b4" stroke-width="2.0"/><line x1="637.8" y1="160.85" x2="637.8" y2="153.7" stroke="#c4c8de" stroke-width="2.0"/><line x1="658.2" y1="120.4" x2="658.2" y2="127.55" stroke="#8078b4" stroke-width="2.0"/><line x1="658.2" y1="127.55" x2="658.2" y2="134.7" stroke="#c4c8de" stroke-width="2.0"/><line x1="657.9" y1="168" x2="657.9" y2="160.85" stroke="#8078b4" stroke-width="2.0"/><line x1="657.9" y1="160.85" x2="657.9" y2="153.7" stroke="#c4c8de" stroke-width="2.0"/><line x1="584.8" y1="144.3" x2="581.3" y2="139.5" stroke="#b08aa2" stroke-width="2.0"/><line x1="581.3" y1="139.5" x2="577.8" y2="134.7" stroke="#c4c8de" stroke-width="2.0"/><line x1="584.8" y1="144.3" x2="581.15" y2="149" stroke="#b08aa2" stroke-width="2.0"/><line x1="581.15" y1="149" x2="577.5" y2="153.7" stroke="#c4c8de" stroke-width="2.0"/><line x1="584.8" y1="144.3" x2="591.35" y2="139.5" stroke="#b08aa2" stroke-width="2.0"/><line x1="591.35" y1="139.5" x2="597.9" y2="134.7" stroke="#c4c8de" stroke-width="2.0"/><line x1="584.8" y1="144.3" x2="591.2" y2="149" stroke="#b08aa2" stroke-width="2.0"/><line x1="591.2" y1="149" x2="597.6" y2="153.7" stroke="#c4c8de" stroke-width="2.0"/><line x1="604.9" y1="144.3" x2="601.4" y2="139.5" stroke="#b08aa2" stroke-width="2.0"/><line x1="601.4" y1="139.5" x2="597.9" y2="134.7" stroke="#c4c8de" stroke-width="2.0"/><line x1="604.9" y1="144.3" x2="601.25" y2="149" stroke="#b08aa2" stroke-width="2.0"/><line x1="601.25" y1="149" x2="597.6" y2="153.7" stroke="#c4c8de" stroke-width="2.0"/><line x1="604.9" y1="144.3" x2="611.45" y2="139.5" stroke="#b08aa2" stroke-width="2.0"/><line x1="611.45" y1="139.5" x2="618" y2="134.7" stroke="#c4c8de" stroke-width="2.0"/><line x1="604.9" y1="144.3" x2="611.3" y2="149" stroke="#b08aa2" stroke-width="2.0"/><line x1="611.3" y1="149" x2="617.7" y2="153.7" stroke="#c4c8de" stroke-width="2.0"/><line x1="625" y1="144.3" x2="621.5" y2="139.5" stroke="#b08aa2" stroke-width="2.0"/><line x1="621.5" y1="139.5" x2="618" y2="134.7" stroke="#c4c8de" stroke-width="2.0"/><line x1="625" y1="144.3" x2="621.35" y2="149" stroke="#b08aa2" stroke-width="2.0"/><line x1="621.35" y1="149" x2="617.7" y2="153.7" stroke="#c4c8de" stroke-width="2.0"/><line x1="625" y1="144.3" x2="631.55" y2="139.5" stroke="#b08aa2" stroke-width="2.0"/><line x1="631.55" y1="139.5" x2="638.1" y2="134.7" stroke="#c4c8de" stroke-width="2.0"/><line x1="625" y1="144.3" x2="631.4" y2="149" stroke="#b08aa2" stroke-width="2.0"/><line x1="631.4" y1="149" x2="637.8" y2="153.7" stroke="#c4c8de" stroke-width="2.0"/><line x1="645.1" y1="144.3" x2="641.6" y2="139.5" stroke="#b08aa2" stroke-width="2.0"/><line x1="641.6" y1="139.5" x2="638.1" y2="134.7" stroke="#c4c8de" stroke-width="2.0"/><line x1="645.1" y1="144.3" x2="641.45" y2="149" stroke="#b08aa2" stroke-width="2.0"/><line x1="641.45" y1="149" x2="637.8" y2="153.7" stroke="#c4c8de" stroke-width="2.0"/><line x1="645.1" y1="144.3" x2="651.65" y2="139.5" stroke="#b08aa2" stroke-width="2.0"/><line x1="651.65" y1="139.5" x2="658.2" y2="134.7" stroke="#c4c8de" stroke-width="2.0"/><line x1="645.1" y1="144.3" x2="651.5" y2="149" stroke="#b08aa2" stroke-width="2.0"/><line x1="651.5" y1="149" x2="657.9" y2="153.7" stroke="#c4c8de" stroke-width="2.0"/><circle cx="584.8" cy="115.6" r="2.5" fill="url(#gN)"/><circle cx="604.9" cy="115.6" r="2.5" fill="url(#gN)"/><circle cx="625" cy="115.6" r="2.5" fill="url(#gN)"/><circle cx="645.1" cy="115.6" r="2.5" fill="url(#gN)"/><circle cx="577.8" cy="120.4" r="4" fill="url(#gGe)"/><circle cx="577.8" cy="134.7" r="2.5" fill="url(#gN)"/><circle cx="577.5" cy="153.7" r="2.5" fill="url(#gN)"/><circle cx="597.9" cy="120.4" r="4" fill="url(#gGe)"/><circle cx="597.9" cy="134.7" r="2.5" fill="url(#gN)"/><circle cx="597.6" cy="153.7" r="2.5" fill="url(#gN)"/><circle cx="618" cy="120.4" r="4" fill="url(#gGe)"/><circle cx="618" cy="134.7" r="2.5" fill="url(#gN)"/><circle cx="617.7" cy="153.7" r="2.5" fill="url(#gN)"/><circle cx="638.1" cy="120.4" r="4" fill="url(#gGe)"/><circle cx="638.1" cy="134.7" r="2.5" fill="url(#gN)"/><circle cx="637.8" cy="153.7" r="2.5" fill="url(#gN)"/><circle cx="658.2" cy="120.4" r="4" fill="url(#gGe)"/><circle cx="658.2" cy="134.7" r="2.5" fill="url(#gN)"/><circle cx="657.9" cy="153.7" r="2.5" fill="url(#gN)"/><circle cx="584.8" cy="144.3" r="4.6" fill="url(#gMo)"/><circle cx="604.9" cy="144.3" r="4.6" fill="url(#gMo)"/><circle cx="625" cy="144.3" r="4.6" fill="url(#gMo)"/><circle cx="645.1" cy="144.3" r="4.6" fill="url(#gMo)"/><circle cx="577.5" cy="168" r="4" fill="url(#gGe)"/><circle cx="597.6" cy="168" r="4" fill="url(#gGe)"/><circle cx="617.7" cy="168" r="4" fill="url(#gGe)"/><circle cx="637.8" cy="168" r="4" fill="url(#gGe)"/><circle cx="657.9" cy="168" r="4" fill="url(#gGe)"/><circle cx="584.5" cy="173.1" r="2.5" fill="url(#gN)"/><circle cx="604.6" cy="173.1" r="2.5" fill="url(#gN)"/><circle cx="624.7" cy="173.1" r="2.5" fill="url(#gN)"/><circle cx="644.8" cy="173.1" r="2.5" fill="url(#gN)"/><path d="M84.26,392.2L143.9,357.32L203.54,392.2L143.9,427.08Z" fill="none" stroke="#ebebeb" stroke-width="0.6"/><line x1="138.93" y1="366.04" x2="133.96" y2="366.04" stroke="#2a40e0" stroke-width="1.4"/><line x1="133.96" y1="366.04" x2="128.99" y2="366.04" stroke="#2a40e0" stroke-width="1.4"/><line x1="138.93" y1="366.04" x2="141.42" y2="361.68" stroke="#2a40e0" stroke-width="1.4"/><line x1="141.42" y1="361.68" x2="143.9" y2="357.32" stroke="#2a40e0" stroke-width="1.4"/><line x1="138.93" y1="366.04" x2="141.42" y2="370.4" stroke="#2a40e0" stroke-width="1.4"/><line x1="141.42" y1="370.4" x2="143.9" y2="374.76" stroke="#2a40e0" stroke-width="1.4"/><line x1="124.02" y1="374.76" x2="119.05" y2="374.76" stroke="#2a40e0" stroke-width="1.4"/><line x1="119.05" y1="374.76" x2="114.08" y2="374.76" stroke="#2a40e0" stroke-width="1.4"/><line x1="124.02" y1="374.76" x2="126.51" y2="370.4" stroke="#2a40e0" stroke-width="1.4"/><line x1="126.51" y1="370.4" x2="128.99" y2="366.04" stroke="#2a40e0" stroke-width="1.4"/><line x1="124.02" y1="374.76" x2="126.51" y2="379.12" stroke="#2a40e0" stroke-width="1.4"/><line x1="126.51" y1="379.12" x2="128.99" y2="383.48" stroke="#2a40e0" stroke-width="1.4"/><line x1="153.84" y1="374.76" x2="148.87" y2="374.76" stroke="#2a40e0" stroke-width="1.4"/><line x1="148.87" y1="374.76" x2="143.9" y2="374.76" stroke="#2a40e0" stroke-width="1.4"/><line x1="153.84" y1="374.76" x2="156.32" y2="370.4" stroke="#2a40e0" stroke-width="1.4"/><line x1="156.32" y1="370.4" x2="158.81" y2="366.04" stroke="#2a40e0" stroke-width="1.4"/><line x1="153.84" y1="374.76" x2="156.32" y2="379.12" stroke="#2a40e0" stroke-width="1.4"/><line x1="156.32" y1="379.12" x2="158.81" y2="383.48" stroke="#2a40e0" stroke-width="1.4"/><line x1="109.11" y1="383.48" x2="104.14" y2="383.48" stroke="#2a40e0" stroke-width="1.4"/><line x1="104.14" y1="383.48" x2="99.17" y2="383.48" stroke="#2a40e0" stroke-width="1.4"/><line x1="109.11" y1="383.48" x2="111.6" y2="379.12" stroke="#2a40e0" stroke-width="1.4"/><line x1="111.6" y1="379.12" x2="114.08" y2="374.76" stroke="#2a40e0" stroke-width="1.4"/><line x1="109.11" y1="383.48" x2="111.6" y2="387.84" stroke="#2a40e0" stroke-width="1.4"/><line x1="111.6" y1="387.84" x2="114.08" y2="392.2" stroke="#2a40e0" stroke-width="1.4"/><line x1="138.93" y1="383.48" x2="133.96" y2="383.48" stroke="#2a40e0" stroke-width="1.4"/><line x1="133.96" y1="383.48" x2="128.99" y2="383.48" stroke="#2a40e0" stroke-width="1.4"/><line x1="138.93" y1="383.48" x2="141.42" y2="379.12" stroke="#2a40e0" stroke-width="1.4"/><line x1="141.42" y1="379.12" x2="143.9" y2="374.76" stroke="#2a40e0" stroke-width="1.4"/><line x1="138.93" y1="383.48" x2="141.42" y2="387.84" stroke="#2a40e0" stroke-width="1.4"/><line x1="141.42" y1="387.84" x2="143.9" y2="392.2" stroke="#2a40e0" stroke-width="1.4"/><line x1="168.75" y1="383.48" x2="163.78" y2="383.48" stroke="#2a40e0" stroke-width="1.4"/><line x1="163.78" y1="383.48" x2="158.81" y2="383.48" stroke="#2a40e0" stroke-width="1.4"/><line x1="168.75" y1="383.48" x2="171.24" y2="379.12" stroke="#2a40e0" stroke-width="1.4"/><line x1="171.24" y1="379.12" x2="173.72" y2="374.76" stroke="#2a40e0" stroke-width="1.4"/><line x1="168.75" y1="383.48" x2="171.24" y2="387.84" stroke="#2a40e0" stroke-width="1.4"/><line x1="171.24" y1="387.84" x2="173.72" y2="392.2" stroke="#2a40e0" stroke-width="1.4"/><line x1="94.2" y1="392.2" x2="89.23" y2="392.2" stroke="#2a40e0" stroke-width="1.4"/><line x1="89.23" y1="392.2" x2="84.26" y2="392.2" stroke="#2a40e0" stroke-width="1.4"/><line x1="94.2" y1="392.2" x2="96.69" y2="387.84" stroke="#2a40e0" stroke-width="1.4"/><line x1="96.69" y1="387.84" x2="99.17" y2="383.48" stroke="#2a40e0" stroke-width="1.4"/><line x1="94.2" y1="392.2" x2="96.69" y2="396.56" stroke="#2a40e0" stroke-width="1.4"/><line x1="96.69" y1="396.56" x2="99.17" y2="400.92" stroke="#2a40e0" stroke-width="1.4"/><line x1="124.02" y1="392.2" x2="119.05" y2="392.2" stroke="#2a40e0" stroke-width="1.4"/><line x1="119.05" y1="392.2" x2="114.08" y2="392.2" stroke="#2a40e0" stroke-width="1.4"/><line x1="124.02" y1="392.2" x2="126.51" y2="387.84" stroke="#2a40e0" stroke-width="1.4"/><line x1="126.51" y1="387.84" x2="128.99" y2="383.48" stroke="#2a40e0" stroke-width="1.4"/><line x1="124.02" y1="392.2" x2="126.51" y2="396.56" stroke="#2a40e0" stroke-width="1.4"/><line x1="126.51" y1="396.56" x2="128.99" y2="400.92" stroke="#2a40e0" stroke-width="1.4"/><line x1="153.84" y1="392.2" x2="148.87" y2="392.2" stroke="#2a40e0" stroke-width="1.4"/><line x1="148.87" y1="392.2" x2="143.9" y2="392.2" stroke="#2a40e0" stroke-width="1.4"/><line x1="153.84" y1="392.2" x2="156.32" y2="387.84" stroke="#2a40e0" stroke-width="1.4"/><line x1="156.32" y1="387.84" x2="158.81" y2="383.48" stroke="#2a40e0" stroke-width="1.4"/><line x1="153.84" y1="392.2" x2="156.32" y2="396.56" stroke="#2a40e0" stroke-width="1.4"/><line x1="156.32" y1="396.56" x2="158.81" y2="400.92" stroke="#2a40e0" stroke-width="1.4"/><line x1="183.66" y1="392.2" x2="178.69" y2="392.2" stroke="#2a40e0" stroke-width="1.4"/><line x1="178.69" y1="392.2" x2="173.72" y2="392.2" stroke="#2a40e0" stroke-width="1.4"/><line x1="183.66" y1="392.2" x2="186.14" y2="387.84" stroke="#2a40e0" stroke-width="1.4"/><line x1="186.14" y1="387.84" x2="188.63" y2="383.48" stroke="#2a40e0" stroke-width="1.4"/><line x1="183.66" y1="392.2" x2="186.14" y2="396.56" stroke="#2a40e0" stroke-width="1.4"/><line x1="186.14" y1="396.56" x2="188.63" y2="400.92" stroke="#2a40e0" stroke-width="1.4"/><line x1="109.11" y1="400.92" x2="104.14" y2="400.92" stroke="#2a40e0" stroke-width="1.4"/><line x1="104.14" y1="400.92" x2="99.17" y2="400.92" stroke="#2a40e0" stroke-width="1.4"/><line x1="109.11" y1="400.92" x2="111.6" y2="396.56" stroke="#2a40e0" stroke-width="1.4"/><line x1="111.6" y1="396.56" x2="114.08" y2="392.2" stroke="#2a40e0" stroke-width="1.4"/><line x1="109.11" y1="400.92" x2="111.6" y2="405.28" stroke="#2a40e0" stroke-width="1.4"/><line x1="111.6" y1="405.28" x2="114.08" y2="409.64" stroke="#2a40e0" stroke-width="1.4"/><line x1="138.93" y1="400.92" x2="133.96" y2="400.92" stroke="#2a40e0" stroke-width="1.4"/><line x1="133.96" y1="400.92" x2="128.99" y2="400.92" stroke="#2a40e0" stroke-width="1.4"/><line x1="138.93" y1="400.92" x2="141.42" y2="396.56" stroke="#2a40e0" stroke-width="1.4"/><line x1="141.42" y1="396.56" x2="143.9" y2="392.2" stroke="#2a40e0" stroke-width="1.4"/><line x1="138.93" y1="400.92" x2="141.42" y2="405.28" stroke="#2a40e0" stroke-width="1.4"/><line x1="141.42" y1="405.28" x2="143.9" y2="409.64" stroke="#2a40e0" stroke-width="1.4"/><line x1="168.75" y1="400.92" x2="163.78" y2="400.92" stroke="#2a40e0" stroke-width="1.4"/><line x1="163.78" y1="400.92" x2="158.81" y2="400.92" stroke="#2a40e0" stroke-width="1.4"/><line x1="168.75" y1="400.92" x2="171.24" y2="396.56" stroke="#2a40e0" stroke-width="1.4"/><line x1="171.24" y1="396.56" x2="173.72" y2="392.2" stroke="#2a40e0" stroke-width="1.4"/><line x1="168.75" y1="400.92" x2="171.24" y2="405.28" stroke="#2a40e0" stroke-width="1.4"/><line x1="171.24" y1="405.28" x2="173.72" y2="409.64" stroke="#2a40e0" stroke-width="1.4"/><line x1="124.02" y1="409.64" x2="119.05" y2="409.64" stroke="#2a40e0" stroke-width="1.4"/><line x1="119.05" y1="409.64" x2="114.08" y2="409.64" stroke="#2a40e0" stroke-width="1.4"/><line x1="124.02" y1="409.64" x2="126.51" y2="405.28" stroke="#2a40e0" stroke-width="1.4"/><line x1="126.51" y1="405.28" x2="128.99" y2="400.92" stroke="#2a40e0" stroke-width="1.4"/><line x1="124.02" y1="409.64" x2="126.51" y2="414" stroke="#2a40e0" stroke-width="1.4"/><line x1="126.51" y1="414" x2="128.99" y2="418.36" stroke="#2a40e0" stroke-width="1.4"/><line x1="153.84" y1="409.64" x2="148.87" y2="409.64" stroke="#2a40e0" stroke-width="1.4"/><line x1="148.87" y1="409.64" x2="143.9" y2="409.64" stroke="#2a40e0" stroke-width="1.4"/><line x1="153.84" y1="409.64" x2="156.32" y2="405.28" stroke="#2a40e0" stroke-width="1.4"/><line x1="156.32" y1="405.28" x2="158.81" y2="400.92" stroke="#2a40e0" stroke-width="1.4"/><line x1="153.84" y1="409.64" x2="156.32" y2="414" stroke="#2a40e0" stroke-width="1.4"/><line x1="156.32" y1="414" x2="158.81" y2="418.36" stroke="#2a40e0" stroke-width="1.4"/><line x1="138.93" y1="418.36" x2="133.96" y2="418.36" stroke="#2a40e0" stroke-width="1.4"/><line x1="133.96" y1="418.36" x2="128.99" y2="418.36" stroke="#2a40e0" stroke-width="1.4"/><line x1="138.93" y1="418.36" x2="141.42" y2="414" stroke="#2a40e0" stroke-width="1.4"/><line x1="141.42" y1="414" x2="143.9" y2="409.64" stroke="#2a40e0" stroke-width="1.4"/><line x1="138.93" y1="418.36" x2="141.42" y2="422.72" stroke="#2a40e0" stroke-width="1.4"/><line x1="141.42" y1="422.72" x2="143.9" y2="427.08" stroke="#2a40e0" stroke-width="1.4"/><circle cx="173.72" cy="374.76" r="3.2" fill="url(#gSi)"/><circle cx="114.08" cy="392.2" r="3.2" fill="url(#gSi)"/><circle cx="143.9" cy="357.32" r="3.2" fill="url(#gSi)"/><circle cx="143.9" cy="409.64" r="3.2" fill="url(#gSi)"/><circle cx="128.99" cy="383.48" r="3.2" fill="url(#gSi)"/><circle cx="128.99" cy="400.92" r="3.2" fill="url(#gSi)"/><circle cx="173.72" cy="392.2" r="3.2" fill="url(#gSi)"/><circle cx="188.63" cy="383.48" r="3.2" fill="url(#gSi)"/><circle cx="84.26" cy="392.2" r="3.2" fill="url(#gSi)"/><circle cx="188.63" cy="400.92" r="3.2" fill="url(#gSi)"/><circle cx="114.08" cy="409.64" r="3.2" fill="url(#gSi)"/><circle cx="143.9" cy="374.76" r="3.2" fill="url(#gSi)"/><circle cx="158.81" cy="400.92" r="3.2" fill="url(#gSi)"/><circle cx="143.9" cy="427.08" r="3.2" fill="url(#gSi)"/><circle cx="99.17" cy="383.48" r="3.2" fill="url(#gSi)"/><circle cx="158.81" cy="383.48" r="3.2" fill="url(#gSi)"/><circle cx="99.17" cy="400.92" r="3.2" fill="url(#gSi)"/><circle cx="128.99" cy="366.04" r="3.2" fill="url(#gSi)"/><circle cx="128.99" cy="418.36" r="3.2" fill="url(#gSi)"/><circle cx="173.72" cy="409.64" r="3.2" fill="url(#gSi)"/><circle cx="114.08" cy="374.76" r="3.2" fill="url(#gSi)"/><circle cx="143.9" cy="392.2" r="3.2" fill="url(#gSi)"/><circle cx="158.81" cy="366.04" r="3.2" fill="url(#gSi)"/><circle cx="158.81" cy="418.36" r="3.2" fill="url(#gSi)"/><circle cx="203.54" cy="392.2" r="3.2" fill="url(#gSi)"/><circle cx="138.93" cy="366.04" r="3.35" fill="url(#gWTr)"/><circle cx="124.02" cy="374.76" r="3.35" fill="url(#gWTr)"/><circle cx="153.84" cy="374.76" r="3.35" fill="url(#gWTr)"/><circle cx="109.11" cy="383.48" r="3.35" fill="url(#gWTr)"/><circle cx="138.93" cy="383.48" r="3.35" fill="url(#gWTr)"/><circle cx="168.75" cy="383.48" r="3.35" fill="url(#gWTr)"/><circle cx="94.2" cy="392.2" r="3.35" fill="url(#gWTr)"/><circle cx="124.02" cy="392.2" r="3.35" fill="url(#gWTr)"/><circle cx="153.84" cy="392.2" r="3.35" fill="url(#gWTr)"/><circle cx="183.66" cy="392.2" r="3.35" fill="url(#gWTr)"/><circle cx="109.11" cy="400.92" r="3.35" fill="url(#gWTr)"/><circle cx="138.93" cy="400.92" r="3.35" fill="url(#gWTr)"/><circle cx="168.75" cy="400.92" r="3.35" fill="url(#gWTr)"/><circle cx="124.02" cy="409.64" r="3.35" fill="url(#gWTr)"/><circle cx="153.84" cy="409.64" r="3.35" fill="url(#gWTr)"/><circle cx="138.93" cy="418.36" r="3.35" fill="url(#gWTr)"/><line x1="215.9" y1="366.5" x2="219.3" y2="364.35" stroke="#2a40e0" stroke-width="2.0"/><line x1="219.3" y1="364.35" x2="222.7" y2="362.2" stroke="#c4c8de" stroke-width="2.0"/><line x1="236.05" y1="366.5" x2="229.38" y2="364.35" stroke="#2a40e0" stroke-width="2.0"/><line x1="229.38" y1="364.35" x2="222.7" y2="362.2" stroke="#c4c8de" stroke-width="2.0"/><line x1="215.2" y1="416.6" x2="218.6" y2="418.85" stroke="#2a40e0" stroke-width="2.0"/><line x1="218.6" y1="418.85" x2="222" y2="421.1" stroke="#c4c8de" stroke-width="2.0"/><line x1="235.35" y1="416.6" x2="228.68" y2="418.85" stroke="#2a40e0" stroke-width="2.0"/><line x1="228.68" y1="418.85" x2="222" y2="421.1" stroke="#c4c8de" stroke-width="2.0"/><line x1="236.05" y1="366.5" x2="239.45" y2="364.35" stroke="#2a40e0" stroke-width="2.0"/><line x1="239.45" y1="364.35" x2="242.85" y2="362.2" stroke="#c4c8de" stroke-width="2.0"/><line x1="256.2" y1="366.5" x2="249.53" y2="364.35" stroke="#2a40e0" stroke-width="2.0"/><line x1="249.53" y1="364.35" x2="242.85" y2="362.2" stroke="#c4c8de" stroke-width="2.0"/><line x1="235.35" y1="416.6" x2="238.75" y2="418.85" stroke="#2a40e0" stroke-width="2.0"/><line x1="238.75" y1="418.85" x2="242.15" y2="421.1" stroke="#c4c8de" stroke-width="2.0"/><line x1="255.5" y1="416.6" x2="248.83" y2="418.85" stroke="#2a40e0" stroke-width="2.0"/><line x1="248.83" y1="418.85" x2="242.15" y2="421.1" stroke="#c4c8de" stroke-width="2.0"/><line x1="256.2" y1="366.5" x2="259.6" y2="364.35" stroke="#2a40e0" stroke-width="2.0"/><line x1="259.6" y1="364.35" x2="263" y2="362.2" stroke="#c4c8de" stroke-width="2.0"/><line x1="276.35" y1="366.5" x2="269.68" y2="364.35" stroke="#2a40e0" stroke-width="2.0"/><line x1="269.68" y1="364.35" x2="263" y2="362.2" stroke="#c4c8de" stroke-width="2.0"/><line x1="255.5" y1="416.6" x2="258.9" y2="418.85" stroke="#2a40e0" stroke-width="2.0"/><line x1="258.9" y1="418.85" x2="262.3" y2="421.1" stroke="#c4c8de" stroke-width="2.0"/><line x1="275.65" y1="416.6" x2="268.98" y2="418.85" stroke="#2a40e0" stroke-width="2.0"/><line x1="268.98" y1="418.85" x2="262.3" y2="421.1" stroke="#c4c8de" stroke-width="2.0"/><line x1="276.35" y1="366.5" x2="279.75" y2="364.35" stroke="#2a40e0" stroke-width="2.0"/><line x1="279.75" y1="364.35" x2="283.15" y2="362.2" stroke="#c4c8de" stroke-width="2.0"/><line x1="296.5" y1="366.5" x2="289.83" y2="364.35" stroke="#2a40e0" stroke-width="2.0"/><line x1="289.83" y1="364.35" x2="283.15" y2="362.2" stroke="#c4c8de" stroke-width="2.0"/><line x1="275.65" y1="416.6" x2="279.05" y2="418.85" stroke="#2a40e0" stroke-width="2.0"/><line x1="279.05" y1="418.85" x2="282.45" y2="421.1" stroke="#c4c8de" stroke-width="2.0"/><line x1="295.8" y1="416.6" x2="289.12" y2="418.85" stroke="#2a40e0" stroke-width="2.0"/><line x1="289.12" y1="418.85" x2="282.45" y2="421.1" stroke="#c4c8de" stroke-width="2.0"/><line x1="215.9" y1="366.5" x2="215.9" y2="374" stroke="#2a40e0" stroke-width="2.0"/><line x1="215.9" y1="374" x2="215.9" y2="381.5" stroke="#c4c8de" stroke-width="2.0"/><line x1="215.2" y1="416.6" x2="215.2" y2="409.75" stroke="#2a40e0" stroke-width="2.0"/><line x1="215.2" y1="409.75" x2="215.2" y2="402.9" stroke="#c4c8de" stroke-width="2.0"/><line x1="236.05" y1="366.5" x2="236.05" y2="374" stroke="#2a40e0" stroke-width="2.0"/><line x1="236.05" y1="374" x2="236.05" y2="381.5" stroke="#c4c8de" stroke-width="2.0"/><line x1="235.35" y1="416.6" x2="235.35" y2="409.75" stroke="#2a40e0" stroke-width="2.0"/><line x1="235.35" y1="409.75" x2="235.35" y2="402.9" stroke="#c4c8de" stroke-width="2.0"/><line x1="256.2" y1="366.5" x2="256.2" y2="374" stroke="#2a40e0" stroke-width="2.0"/><line x1="256.2" y1="374" x2="256.2" y2="381.5" stroke="#c4c8de" stroke-width="2.0"/><line x1="255.5" y1="416.6" x2="255.5" y2="409.75" stroke="#2a40e0" stroke-width="2.0"/><line x1="255.5" y1="409.75" x2="255.5" y2="402.9" stroke="#c4c8de" stroke-width="2.0"/><line x1="276.35" y1="366.5" x2="276.35" y2="374" stroke="#2a40e0" stroke-width="2.0"/><line x1="276.35" y1="374" x2="276.35" y2="381.5" stroke="#c4c8de" stroke-width="2.0"/><line x1="275.65" y1="416.6" x2="275.65" y2="409.75" stroke="#2a40e0" stroke-width="2.0"/><line x1="275.65" y1="409.75" x2="275.65" y2="402.9" stroke="#c4c8de" stroke-width="2.0"/><line x1="296.5" y1="366.5" x2="296.5" y2="374" stroke="#2a40e0" stroke-width="2.0"/><line x1="296.5" y1="374" x2="296.5" y2="381.5" stroke="#c4c8de" stroke-width="2.0"/><line x1="295.8" y1="416.6" x2="295.8" y2="409.75" stroke="#2a40e0" stroke-width="2.0"/><line x1="295.8" y1="409.75" x2="295.8" y2="402.9" stroke="#c4c8de" stroke-width="2.0"/><line x1="221.45" y1="391.9" x2="218.68" y2="386.7" stroke="#8a8a84" stroke-width="2.0"/><line x1="218.68" y1="386.7" x2="215.9" y2="381.5" stroke="#c4c8de" stroke-width="2.0"/><line x1="221.45" y1="391.9" x2="218.32" y2="397.4" stroke="#8a8a84" stroke-width="2.0"/><line x1="218.32" y1="397.4" x2="215.2" y2="402.9" stroke="#c4c8de" stroke-width="2.0"/><line x1="221.45" y1="391.9" x2="228.75" y2="386.7" stroke="#8a8a84" stroke-width="2.0"/><line x1="228.75" y1="386.7" x2="236.05" y2="381.5" stroke="#c4c8de" stroke-width="2.0"/><line x1="221.45" y1="391.9" x2="228.4" y2="397.4" stroke="#8a8a84" stroke-width="2.0"/><line x1="228.4" y1="397.4" x2="235.35" y2="402.9" stroke="#c4c8de" stroke-width="2.0"/><line x1="241.9" y1="391.9" x2="238.98" y2="386.7" stroke="#8a8a84" stroke-width="2.0"/><line x1="238.98" y1="386.7" x2="236.05" y2="381.5" stroke="#c4c8de" stroke-width="2.0"/><line x1="241.9" y1="391.9" x2="238.62" y2="397.4" stroke="#8a8a84" stroke-width="2.0"/><line x1="238.62" y1="397.4" x2="235.35" y2="402.9" stroke="#c4c8de" stroke-width="2.0"/><line x1="241.9" y1="391.9" x2="249.05" y2="386.7" stroke="#8a8a84" stroke-width="2.0"/><line x1="249.05" y1="386.7" x2="256.2" y2="381.5" stroke="#c4c8de" stroke-width="2.0"/><line x1="241.9" y1="391.9" x2="248.7" y2="397.4" stroke="#8a8a84" stroke-width="2.0"/><line x1="248.7" y1="397.4" x2="255.5" y2="402.9" stroke="#c4c8de" stroke-width="2.0"/><line x1="262.35" y1="391.9" x2="259.27" y2="386.7" stroke="#8a8a84" stroke-width="2.0"/><line x1="259.27" y1="386.7" x2="256.2" y2="381.5" stroke="#c4c8de" stroke-width="2.0"/><line x1="262.35" y1="391.9" x2="258.93" y2="397.4" stroke="#8a8a84" stroke-width="2.0"/><line x1="258.93" y1="397.4" x2="255.5" y2="402.9" stroke="#c4c8de" stroke-width="2.0"/><line x1="262.35" y1="391.9" x2="269.35" y2="386.7" stroke="#8a8a84" stroke-width="2.0"/><line x1="269.35" y1="386.7" x2="276.35" y2="381.5" stroke="#c4c8de" stroke-width="2.0"/><line x1="262.35" y1="391.9" x2="269" y2="397.4" stroke="#8a8a84" stroke-width="2.0"/><line x1="269" y1="397.4" x2="275.65" y2="402.9" stroke="#c4c8de" stroke-width="2.0"/><line x1="282.8" y1="391.9" x2="279.58" y2="386.7" stroke="#8a8a84" stroke-width="2.0"/><line x1="279.58" y1="386.7" x2="276.35" y2="381.5" stroke="#c4c8de" stroke-width="2.0"/><line x1="282.8" y1="391.9" x2="279.23" y2="397.4" stroke="#8a8a84" stroke-width="2.0"/><line x1="279.23" y1="397.4" x2="275.65" y2="402.9" stroke="#c4c8de" stroke-width="2.0"/><line x1="282.8" y1="391.9" x2="289.65" y2="386.7" stroke="#8a8a84" stroke-width="2.0"/><line x1="289.65" y1="386.7" x2="296.5" y2="381.5" stroke="#c4c8de" stroke-width="2.0"/><line x1="282.8" y1="391.9" x2="289.3" y2="397.4" stroke="#8a8a84" stroke-width="2.0"/><line x1="289.3" y1="397.4" x2="295.8" y2="402.9" stroke="#c4c8de" stroke-width="2.0"/><circle cx="222.7" cy="362.2" r="2.4" fill="url(#gNl)"/><circle cx="242.85" cy="362.2" r="2.4" fill="url(#gNl)"/><circle cx="263" cy="362.2" r="2.4" fill="url(#gNl)"/><circle cx="283.15" cy="362.2" r="2.4" fill="url(#gNl)"/><circle cx="215.9" cy="366.5" r="4" fill="url(#gSi)"/><circle cx="215.9" cy="381.5" r="2.4" fill="url(#gNl)"/><circle cx="215.2" cy="402.9" r="2.4" fill="url(#gNl)"/><circle cx="236.05" cy="366.5" r="4" fill="url(#gSi)"/><circle cx="236.05" cy="381.5" r="2.4" fill="url(#gNl)"/><circle cx="235.35" cy="402.9" r="2.4" fill="url(#gNl)"/><circle cx="256.2" cy="366.5" r="4" fill="url(#gSi)"/><circle cx="256.2" cy="381.5" r="2.4" fill="url(#gNl)"/><circle cx="255.5" cy="402.9" r="2.4" fill="url(#gNl)"/><circle cx="276.35" cy="366.5" r="4" fill="url(#gSi)"/><circle cx="276.35" cy="381.5" r="2.4" fill="url(#gNl)"/><circle cx="275.65" cy="402.9" r="2.4" fill="url(#gNl)"/><circle cx="296.5" cy="366.5" r="4" fill="url(#gSi)"/><circle cx="296.5" cy="381.5" r="2.4" fill="url(#gNl)"/><circle cx="295.8" cy="402.9" r="2.4" fill="url(#gNl)"/><circle cx="221.45" cy="391.9" r="4.8" fill="url(#gW)"/><circle cx="241.9" cy="391.9" r="4.8" fill="url(#gW)"/><circle cx="262.35" cy="391.9" r="4.8" fill="url(#gW)"/><circle cx="282.8" cy="391.9" r="4.8" fill="url(#gW)"/><circle cx="215.2" cy="416.6" r="4" fill="url(#gSi)"/><circle cx="235.35" cy="416.6" r="4" fill="url(#gSi)"/><circle cx="255.5" cy="416.6" r="4" fill="url(#gSi)"/><circle cx="275.65" cy="416.6" r="4" fill="url(#gSi)"/><circle cx="295.8" cy="416.6" r="4" fill="url(#gSi)"/><circle cx="222" cy="421.1" r="2.4" fill="url(#gNl)"/><circle cx="242.15" cy="421.1" r="2.4" fill="url(#gNl)"/><circle cx="262.3" cy="421.1" r="2.4" fill="url(#gNl)"/><circle cx="282.45" cy="421.1" r="2.4" fill="url(#gNl)"/><path d="M444.11,391.4L503.75,355.92L563.39,391.4L503.75,426.88Z" fill="none" stroke="#ebebeb" stroke-width="0.6"/><line x1="498.78" y1="364.79" x2="493.81" y2="364.79" stroke="#8078b4" stroke-width="1.25"/><line x1="493.81" y1="364.79" x2="488.84" y2="364.79" stroke="#8078b4" stroke-width="1.25"/><line x1="498.78" y1="364.79" x2="501.26" y2="360.35" stroke="#8078b4" stroke-width="1.25"/><line x1="501.26" y1="360.35" x2="503.75" y2="355.92" stroke="#8078b4" stroke-width="1.25"/><line x1="498.78" y1="364.79" x2="501.26" y2="369.22" stroke="#8078b4" stroke-width="1.25"/><line x1="501.26" y1="369.22" x2="503.75" y2="373.66" stroke="#8078b4" stroke-width="1.25"/><line x1="483.87" y1="373.66" x2="478.9" y2="373.66" stroke="#8078b4" stroke-width="1.25"/><line x1="478.9" y1="373.66" x2="473.93" y2="373.66" stroke="#8078b4" stroke-width="1.25"/><line x1="483.87" y1="373.66" x2="486.36" y2="369.22" stroke="#8078b4" stroke-width="1.25"/><line x1="486.36" y1="369.22" x2="488.84" y2="364.79" stroke="#8078b4" stroke-width="1.25"/><line x1="483.87" y1="373.66" x2="486.36" y2="378.09" stroke="#8078b4" stroke-width="1.25"/><line x1="486.36" y1="378.09" x2="488.84" y2="382.53" stroke="#8078b4" stroke-width="1.25"/><line x1="513.69" y1="373.66" x2="508.72" y2="373.66" stroke="#8078b4" stroke-width="1.25"/><line x1="508.72" y1="373.66" x2="503.75" y2="373.66" stroke="#8078b4" stroke-width="1.25"/><line x1="513.69" y1="373.66" x2="516.17" y2="369.22" stroke="#8078b4" stroke-width="1.25"/><line x1="516.17" y1="369.22" x2="518.66" y2="364.79" stroke="#8078b4" stroke-width="1.25"/><line x1="513.69" y1="373.66" x2="516.17" y2="378.09" stroke="#8078b4" stroke-width="1.25"/><line x1="516.17" y1="378.09" x2="518.66" y2="382.53" stroke="#8078b4" stroke-width="1.25"/><line x1="468.96" y1="382.53" x2="463.99" y2="382.53" stroke="#8078b4" stroke-width="1.25"/><line x1="463.99" y1="382.53" x2="459.02" y2="382.53" stroke="#8078b4" stroke-width="1.25"/><line x1="468.96" y1="382.53" x2="471.44" y2="378.09" stroke="#8078b4" stroke-width="1.25"/><line x1="471.44" y1="378.09" x2="473.93" y2="373.66" stroke="#8078b4" stroke-width="1.25"/><line x1="468.96" y1="382.53" x2="471.44" y2="386.96" stroke="#8078b4" stroke-width="1.25"/><line x1="471.44" y1="386.96" x2="473.93" y2="391.4" stroke="#8078b4" stroke-width="1.25"/><line x1="498.78" y1="382.53" x2="493.81" y2="382.53" stroke="#8078b4" stroke-width="1.25"/><line x1="493.81" y1="382.53" x2="488.84" y2="382.53" stroke="#8078b4" stroke-width="1.25"/><line x1="498.78" y1="382.53" x2="501.26" y2="378.09" stroke="#8078b4" stroke-width="1.25"/><line x1="501.26" y1="378.09" x2="503.75" y2="373.66" stroke="#8078b4" stroke-width="1.25"/><line x1="498.78" y1="382.53" x2="501.26" y2="386.96" stroke="#8078b4" stroke-width="1.25"/><line x1="501.26" y1="386.96" x2="503.75" y2="391.4" stroke="#8078b4" stroke-width="1.25"/><line x1="528.6" y1="382.53" x2="523.63" y2="382.53" stroke="#8078b4" stroke-width="1.25"/><line x1="523.63" y1="382.53" x2="518.66" y2="382.53" stroke="#8078b4" stroke-width="1.25"/><line x1="528.6" y1="382.53" x2="531.09" y2="378.09" stroke="#8078b4" stroke-width="1.25"/><line x1="531.09" y1="378.09" x2="533.57" y2="373.66" stroke="#8078b4" stroke-width="1.25"/><line x1="528.6" y1="382.53" x2="531.09" y2="386.96" stroke="#8078b4" stroke-width="1.25"/><line x1="531.09" y1="386.96" x2="533.57" y2="391.4" stroke="#8078b4" stroke-width="1.25"/><line x1="454.05" y1="391.4" x2="449.08" y2="391.4" stroke="#8078b4" stroke-width="1.25"/><line x1="449.08" y1="391.4" x2="444.11" y2="391.4" stroke="#8078b4" stroke-width="1.25"/><line x1="454.05" y1="391.4" x2="456.53" y2="386.96" stroke="#8078b4" stroke-width="1.25"/><line x1="456.53" y1="386.96" x2="459.02" y2="382.53" stroke="#8078b4" stroke-width="1.25"/><line x1="454.05" y1="391.4" x2="456.53" y2="395.83" stroke="#8078b4" stroke-width="1.25"/><line x1="456.53" y1="395.83" x2="459.02" y2="400.27" stroke="#8078b4" stroke-width="1.25"/><line x1="483.87" y1="391.4" x2="478.9" y2="391.4" stroke="#8078b4" stroke-width="1.25"/><line x1="478.9" y1="391.4" x2="473.93" y2="391.4" stroke="#8078b4" stroke-width="1.25"/><line x1="483.87" y1="391.4" x2="486.36" y2="386.96" stroke="#8078b4" stroke-width="1.25"/><line x1="486.36" y1="386.96" x2="488.84" y2="382.53" stroke="#8078b4" stroke-width="1.25"/><line x1="483.87" y1="391.4" x2="486.36" y2="395.83" stroke="#8078b4" stroke-width="1.25"/><line x1="486.36" y1="395.83" x2="488.84" y2="400.27" stroke="#8078b4" stroke-width="1.25"/><line x1="513.69" y1="391.4" x2="508.72" y2="391.4" stroke="#8078b4" stroke-width="1.25"/><line x1="508.72" y1="391.4" x2="503.75" y2="391.4" stroke="#8078b4" stroke-width="1.25"/><line x1="513.69" y1="391.4" x2="516.17" y2="386.96" stroke="#8078b4" stroke-width="1.25"/><line x1="516.17" y1="386.96" x2="518.66" y2="382.53" stroke="#8078b4" stroke-width="1.25"/><line x1="513.69" y1="391.4" x2="516.17" y2="395.83" stroke="#8078b4" stroke-width="1.25"/><line x1="516.17" y1="395.83" x2="518.66" y2="400.27" stroke="#8078b4" stroke-width="1.25"/><line x1="543.51" y1="391.4" x2="538.54" y2="391.4" stroke="#8078b4" stroke-width="1.25"/><line x1="538.54" y1="391.4" x2="533.57" y2="391.4" stroke="#8078b4" stroke-width="1.25"/><line x1="543.51" y1="391.4" x2="546" y2="386.96" stroke="#8078b4" stroke-width="1.25"/><line x1="546" y1="386.96" x2="548.48" y2="382.53" stroke="#8078b4" stroke-width="1.25"/><line x1="543.51" y1="391.4" x2="546" y2="395.83" stroke="#8078b4" stroke-width="1.25"/><line x1="546" y1="395.83" x2="548.48" y2="400.27" stroke="#8078b4" stroke-width="1.25"/><line x1="468.96" y1="400.27" x2="463.99" y2="400.27" stroke="#8078b4" stroke-width="1.25"/><line x1="463.99" y1="400.27" x2="459.02" y2="400.27" stroke="#8078b4" stroke-width="1.25"/><line x1="468.96" y1="400.27" x2="471.44" y2="395.83" stroke="#8078b4" stroke-width="1.25"/><line x1="471.44" y1="395.83" x2="473.93" y2="391.4" stroke="#8078b4" stroke-width="1.25"/><line x1="468.96" y1="400.27" x2="471.44" y2="404.7" stroke="#8078b4" stroke-width="1.25"/><line x1="471.44" y1="404.7" x2="473.93" y2="409.14" stroke="#8078b4" stroke-width="1.25"/><line x1="498.78" y1="400.27" x2="493.81" y2="400.27" stroke="#8078b4" stroke-width="1.25"/><line x1="493.81" y1="400.27" x2="488.84" y2="400.27" stroke="#8078b4" stroke-width="1.25"/><line x1="498.78" y1="400.27" x2="501.26" y2="395.83" stroke="#8078b4" stroke-width="1.25"/><line x1="501.26" y1="395.83" x2="503.75" y2="391.4" stroke="#8078b4" stroke-width="1.25"/><line x1="498.78" y1="400.27" x2="501.26" y2="404.7" stroke="#8078b4" stroke-width="1.25"/><line x1="501.26" y1="404.7" x2="503.75" y2="409.14" stroke="#8078b4" stroke-width="1.25"/><line x1="528.6" y1="400.27" x2="523.63" y2="400.27" stroke="#8078b4" stroke-width="1.25"/><line x1="523.63" y1="400.27" x2="518.66" y2="400.27" stroke="#8078b4" stroke-width="1.25"/><line x1="528.6" y1="400.27" x2="531.09" y2="395.83" stroke="#8078b4" stroke-width="1.25"/><line x1="531.09" y1="395.83" x2="533.57" y2="391.4" stroke="#8078b4" stroke-width="1.25"/><line x1="528.6" y1="400.27" x2="531.09" y2="404.7" stroke="#8078b4" stroke-width="1.25"/><line x1="531.09" y1="404.7" x2="533.57" y2="409.14" stroke="#8078b4" stroke-width="1.25"/><line x1="483.87" y1="409.14" x2="478.9" y2="409.14" stroke="#8078b4" stroke-width="1.25"/><line x1="478.9" y1="409.14" x2="473.93" y2="409.14" stroke="#8078b4" stroke-width="1.25"/><line x1="483.87" y1="409.14" x2="486.36" y2="404.7" stroke="#8078b4" stroke-width="1.25"/><line x1="486.36" y1="404.7" x2="488.84" y2="400.27" stroke="#8078b4" stroke-width="1.25"/><line x1="483.87" y1="409.14" x2="486.36" y2="413.57" stroke="#8078b4" stroke-width="1.25"/><line x1="486.36" y1="413.57" x2="488.84" y2="418.01" stroke="#8078b4" stroke-width="1.25"/><line x1="513.69" y1="409.14" x2="508.72" y2="409.14" stroke="#8078b4" stroke-width="1.25"/><line x1="508.72" y1="409.14" x2="503.75" y2="409.14" stroke="#8078b4" stroke-width="1.25"/><line x1="513.69" y1="409.14" x2="516.17" y2="404.7" stroke="#8078b4" stroke-width="1.25"/><line x1="516.17" y1="404.7" x2="518.66" y2="400.27" stroke="#8078b4" stroke-width="1.25"/><line x1="513.69" y1="409.14" x2="516.17" y2="413.57" stroke="#8078b4" stroke-width="1.25"/><line x1="516.17" y1="413.57" x2="518.66" y2="418.01" stroke="#8078b4" stroke-width="1.25"/><line x1="498.78" y1="418.01" x2="493.81" y2="418.01" stroke="#8078b4" stroke-width="1.25"/><line x1="493.81" y1="418.01" x2="488.84" y2="418.01" stroke="#8078b4" stroke-width="1.25"/><line x1="498.78" y1="418.01" x2="501.26" y2="413.57" stroke="#8078b4" stroke-width="1.25"/><line x1="501.26" y1="413.57" x2="503.75" y2="409.14" stroke="#8078b4" stroke-width="1.25"/><line x1="498.78" y1="418.01" x2="501.26" y2="422.44" stroke="#8078b4" stroke-width="1.25"/><line x1="501.26" y1="422.44" x2="503.75" y2="426.88" stroke="#8078b4" stroke-width="1.25"/><circle cx="533.57" cy="373.66" r="3.2" fill="url(#gGeT)"/><circle cx="473.93" cy="391.4" r="3.2" fill="url(#gGeT)"/><circle cx="503.75" cy="355.92" r="3.2" fill="url(#gGeT)"/><circle cx="503.75" cy="409.14" r="3.2" fill="url(#gGeT)"/><circle cx="488.84" cy="382.53" r="3.2" fill="url(#gGeT)"/><circle cx="488.84" cy="400.27" r="3.2" fill="url(#gGeT)"/><circle cx="533.57" cy="391.4" r="3.2" fill="url(#gGeT)"/><circle cx="548.48" cy="382.53" r="3.2" fill="url(#gGeT)"/><circle cx="444.11" cy="391.4" r="3.2" fill="url(#gGeT)"/><circle cx="548.48" cy="400.27" r="3.2" fill="url(#gGeT)"/><circle cx="473.93" cy="409.14" r="3.2" fill="url(#gGeT)"/><circle cx="503.75" cy="373.66" r="3.2" fill="url(#gGeT)"/><circle cx="518.66" cy="400.27" r="3.2" fill="url(#gGeT)"/><circle cx="503.75" cy="426.88" r="3.2" fill="url(#gGeT)"/><circle cx="459.02" cy="382.53" r="3.2" fill="url(#gGeT)"/><circle cx="518.66" cy="382.53" r="3.2" fill="url(#gGeT)"/><circle cx="459.02" cy="400.27" r="3.2" fill="url(#gGeT)"/><circle cx="488.84" cy="364.79" r="3.2" fill="url(#gGeT)"/><circle cx="488.84" cy="418.01" r="3.2" fill="url(#gGeT)"/><circle cx="533.57" cy="409.14" r="3.2" fill="url(#gGeT)"/><circle cx="473.93" cy="373.66" r="3.2" fill="url(#gGeT)"/><circle cx="503.75" cy="391.4" r="3.2" fill="url(#gGeT)"/><circle cx="518.66" cy="364.79" r="3.2" fill="url(#gGeT)"/><circle cx="518.66" cy="418.01" r="3.2" fill="url(#gGeT)"/><circle cx="563.39" cy="391.4" r="3.2" fill="url(#gGeT)"/><circle cx="498.78" cy="364.79" r="3.35" fill="url(#gWTr)"/><circle cx="483.87" cy="373.66" r="3.35" fill="url(#gWTr)"/><circle cx="513.69" cy="373.66" r="3.35" fill="url(#gWTr)"/><circle cx="468.96" cy="382.53" r="3.35" fill="url(#gWTr)"/><circle cx="498.78" cy="382.53" r="3.35" fill="url(#gWTr)"/><circle cx="528.6" cy="382.53" r="3.35" fill="url(#gWTr)"/><circle cx="454.05" cy="391.4" r="3.35" fill="url(#gWTr)"/><circle cx="483.87" cy="391.4" r="3.35" fill="url(#gWTr)"/><circle cx="513.69" cy="391.4" r="3.35" fill="url(#gWTr)"/><circle cx="543.51" cy="391.4" r="3.35" fill="url(#gWTr)"/><circle cx="468.96" cy="400.27" r="3.35" fill="url(#gWTr)"/><circle cx="498.78" cy="400.27" r="3.35" fill="url(#gWTr)"/><circle cx="528.6" cy="400.27" r="3.35" fill="url(#gWTr)"/><circle cx="483.87" cy="409.14" r="3.35" fill="url(#gWTr)"/><circle cx="513.69" cy="409.14" r="3.35" fill="url(#gWTr)"/><circle cx="498.78" cy="418.01" r="3.35" fill="url(#gWTr)"/><line x1="574.7" y1="368.6" x2="577.8" y2="365.85" stroke="#8078b4" stroke-width="2.0"/><line x1="577.8" y1="365.85" x2="580.9" y2="363.1" stroke="#c4c8de" stroke-width="2.0"/><line x1="594" y1="368.6" x2="587.45" y2="365.85" stroke="#8078b4" stroke-width="2.0"/><line x1="587.45" y1="365.85" x2="580.9" y2="363.1" stroke="#c4c8de" stroke-width="2.0"/><line x1="574.7" y1="415.4" x2="577.8" y2="417.8" stroke="#8078b4" stroke-width="2.0"/><line x1="577.8" y1="417.8" x2="580.9" y2="420.2" stroke="#c4c8de" stroke-width="2.0"/><line x1="594" y1="415.4" x2="587.45" y2="417.8" stroke="#8078b4" stroke-width="2.0"/><line x1="587.45" y1="417.8" x2="580.9" y2="420.2" stroke="#c4c8de" stroke-width="2.0"/><line x1="594" y1="368.6" x2="597.1" y2="365.85" stroke="#8078b4" stroke-width="2.0"/><line x1="597.1" y1="365.85" x2="600.2" y2="363.1" stroke="#c4c8de" stroke-width="2.0"/><line x1="613.3" y1="368.6" x2="606.75" y2="365.85" stroke="#8078b4" stroke-width="2.0"/><line x1="606.75" y1="365.85" x2="600.2" y2="363.1" stroke="#c4c8de" stroke-width="2.0"/><line x1="594" y1="415.4" x2="597.1" y2="417.8" stroke="#8078b4" stroke-width="2.0"/><line x1="597.1" y1="417.8" x2="600.2" y2="420.2" stroke="#c4c8de" stroke-width="2.0"/><line x1="613.3" y1="415.4" x2="606.75" y2="417.8" stroke="#8078b4" stroke-width="2.0"/><line x1="606.75" y1="417.8" x2="600.2" y2="420.2" stroke="#c4c8de" stroke-width="2.0"/><line x1="613.3" y1="368.6" x2="616.4" y2="365.85" stroke="#8078b4" stroke-width="2.0"/><line x1="616.4" y1="365.85" x2="619.5" y2="363.1" stroke="#c4c8de" stroke-width="2.0"/><line x1="632.6" y1="368.6" x2="626.05" y2="365.85" stroke="#8078b4" stroke-width="2.0"/><line x1="626.05" y1="365.85" x2="619.5" y2="363.1" stroke="#c4c8de" stroke-width="2.0"/><line x1="613.3" y1="415.4" x2="616.4" y2="417.8" stroke="#8078b4" stroke-width="2.0"/><line x1="616.4" y1="417.8" x2="619.5" y2="420.2" stroke="#c4c8de" stroke-width="2.0"/><line x1="632.6" y1="415.4" x2="626.05" y2="417.8" stroke="#8078b4" stroke-width="2.0"/><line x1="626.05" y1="417.8" x2="619.5" y2="420.2" stroke="#c4c8de" stroke-width="2.0"/><line x1="632.6" y1="368.6" x2="635.7" y2="365.85" stroke="#8078b4" stroke-width="2.0"/><line x1="635.7" y1="365.85" x2="638.8" y2="363.1" stroke="#c4c8de" stroke-width="2.0"/><line x1="651.9" y1="368.6" x2="645.35" y2="365.85" stroke="#8078b4" stroke-width="2.0"/><line x1="645.35" y1="365.85" x2="638.8" y2="363.1" stroke="#c4c8de" stroke-width="2.0"/><line x1="632.6" y1="415.4" x2="635.7" y2="417.8" stroke="#8078b4" stroke-width="2.0"/><line x1="635.7" y1="417.8" x2="638.8" y2="420.2" stroke="#c4c8de" stroke-width="2.0"/><line x1="651.9" y1="415.4" x2="645.35" y2="417.8" stroke="#8078b4" stroke-width="2.0"/><line x1="645.35" y1="417.8" x2="638.8" y2="420.2" stroke="#c4c8de" stroke-width="2.0"/><line x1="574.7" y1="368.6" x2="574.7" y2="375.75" stroke="#8078b4" stroke-width="2.0"/><line x1="574.7" y1="375.75" x2="574.7" y2="382.9" stroke="#c4c8de" stroke-width="2.0"/><line x1="574.7" y1="415.4" x2="574.7" y2="408.45" stroke="#8078b4" stroke-width="2.0"/><line x1="574.7" y1="408.45" x2="574.7" y2="401.5" stroke="#c4c8de" stroke-width="2.0"/><line x1="594" y1="368.6" x2="594" y2="375.75" stroke="#8078b4" stroke-width="2.0"/><line x1="594" y1="375.75" x2="594" y2="382.9" stroke="#c4c8de" stroke-width="2.0"/><line x1="594" y1="415.4" x2="594" y2="408.45" stroke="#8078b4" stroke-width="2.0"/><line x1="594" y1="408.45" x2="594" y2="401.5" stroke="#c4c8de" stroke-width="2.0"/><line x1="613.3" y1="368.6" x2="613.3" y2="375.75" stroke="#8078b4" stroke-width="2.0"/><line x1="613.3" y1="375.75" x2="613.3" y2="382.9" stroke="#c4c8de" stroke-width="2.0"/><line x1="613.3" y1="415.4" x2="613.3" y2="408.45" stroke="#8078b4" stroke-width="2.0"/><line x1="613.3" y1="408.45" x2="613.3" y2="401.5" stroke="#c4c8de" stroke-width="2.0"/><line x1="632.6" y1="368.6" x2="632.6" y2="375.75" stroke="#8078b4" stroke-width="2.0"/><line x1="632.6" y1="375.75" x2="632.6" y2="382.9" stroke="#c4c8de" stroke-width="2.0"/><line x1="632.6" y1="415.4" x2="632.6" y2="408.45" stroke="#8078b4" stroke-width="2.0"/><line x1="632.6" y1="408.45" x2="632.6" y2="401.5" stroke="#c4c8de" stroke-width="2.0"/><line x1="651.9" y1="368.6" x2="651.9" y2="375.75" stroke="#8078b4" stroke-width="2.0"/><line x1="651.9" y1="375.75" x2="651.9" y2="382.9" stroke="#c4c8de" stroke-width="2.0"/><line x1="651.9" y1="415.4" x2="651.9" y2="408.45" stroke="#8078b4" stroke-width="2.0"/><line x1="651.9" y1="408.45" x2="651.9" y2="401.5" stroke="#c4c8de" stroke-width="2.0"/><line x1="580.23" y1="391.8" x2="577.46" y2="387.35" stroke="#8a8a84" stroke-width="2.0"/><line x1="577.46" y1="387.35" x2="574.7" y2="382.9" stroke="#c4c8de" stroke-width="2.0"/><line x1="580.23" y1="391.8" x2="577.46" y2="396.65" stroke="#8a8a84" stroke-width="2.0"/><line x1="577.46" y1="396.65" x2="574.7" y2="401.5" stroke="#c4c8de" stroke-width="2.0"/><line x1="580.23" y1="391.8" x2="587.11" y2="387.35" stroke="#8a8a84" stroke-width="2.0"/><line x1="587.11" y1="387.35" x2="594" y2="382.9" stroke="#c4c8de" stroke-width="2.0"/><line x1="580.23" y1="391.8" x2="587.11" y2="396.65" stroke="#8a8a84" stroke-width="2.0"/><line x1="587.11" y1="396.65" x2="594" y2="401.5" stroke="#c4c8de" stroke-width="2.0"/><line x1="599.78" y1="391.8" x2="596.89" y2="387.35" stroke="#8a8a84" stroke-width="2.0"/><line x1="596.89" y1="387.35" x2="594" y2="382.9" stroke="#c4c8de" stroke-width="2.0"/><line x1="599.78" y1="391.8" x2="596.89" y2="396.65" stroke="#8a8a84" stroke-width="2.0"/><line x1="596.89" y1="396.65" x2="594" y2="401.5" stroke="#c4c8de" stroke-width="2.0"/><line x1="599.78" y1="391.8" x2="606.54" y2="387.35" stroke="#8a8a84" stroke-width="2.0"/><line x1="606.54" y1="387.35" x2="613.3" y2="382.9" stroke="#c4c8de" stroke-width="2.0"/><line x1="599.78" y1="391.8" x2="606.54" y2="396.65" stroke="#8a8a84" stroke-width="2.0"/><line x1="606.54" y1="396.65" x2="613.3" y2="401.5" stroke="#c4c8de" stroke-width="2.0"/><line x1="619.33" y1="391.8" x2="616.31" y2="387.35" stroke="#8a8a84" stroke-width="2.0"/><line x1="616.31" y1="387.35" x2="613.3" y2="382.9" stroke="#c4c8de" stroke-width="2.0"/><line x1="619.33" y1="391.8" x2="616.31" y2="396.65" stroke="#8a8a84" stroke-width="2.0"/><line x1="616.31" y1="396.65" x2="613.3" y2="401.5" stroke="#c4c8de" stroke-width="2.0"/><line x1="619.33" y1="391.8" x2="625.96" y2="387.35" stroke="#8a8a84" stroke-width="2.0"/><line x1="625.96" y1="387.35" x2="632.6" y2="382.9" stroke="#c4c8de" stroke-width="2.0"/><line x1="619.33" y1="391.8" x2="625.96" y2="396.65" stroke="#8a8a84" stroke-width="2.0"/><line x1="625.96" y1="396.65" x2="632.6" y2="401.5" stroke="#c4c8de" stroke-width="2.0"/><line x1="638.88" y1="391.8" x2="635.74" y2="387.35" stroke="#8a8a84" stroke-width="2.0"/><line x1="635.74" y1="387.35" x2="632.6" y2="382.9" stroke="#c4c8de" stroke-width="2.0"/><line x1="638.88" y1="391.8" x2="635.74" y2="396.65" stroke="#8a8a84" stroke-width="2.0"/><line x1="635.74" y1="396.65" x2="632.6" y2="401.5" stroke="#c4c8de" stroke-width="2.0"/><line x1="638.88" y1="391.8" x2="645.39" y2="387.35" stroke="#8a8a84" stroke-width="2.0"/><line x1="645.39" y1="387.35" x2="651.9" y2="382.9" stroke="#c4c8de" stroke-width="2.0"/><line x1="638.88" y1="391.8" x2="645.39" y2="396.65" stroke="#8a8a84" stroke-width="2.0"/><line x1="645.39" y1="396.65" x2="651.9" y2="401.5" stroke="#c4c8de" stroke-width="2.0"/><circle cx="580.9" cy="363.1" r="2.5" fill="url(#gN)"/><circle cx="600.2" cy="363.1" r="2.5" fill="url(#gN)"/><circle cx="619.5" cy="363.1" r="2.5" fill="url(#gN)"/><circle cx="638.8" cy="363.1" r="2.5" fill="url(#gN)"/><circle cx="574.7" cy="368.6" r="4" fill="url(#gGe)"/><circle cx="574.7" cy="382.9" r="2.5" fill="url(#gN)"/><circle cx="574.7" cy="401.5" r="2.5" fill="url(#gN)"/><circle cx="594" cy="368.6" r="4" fill="url(#gGe)"/><circle cx="594" cy="382.9" r="2.5" fill="url(#gN)"/><circle cx="594" cy="401.5" r="2.5" fill="url(#gN)"/><circle cx="613.3" cy="368.6" r="4" fill="url(#gGe)"/><circle cx="613.3" cy="382.9" r="2.5" fill="url(#gN)"/><circle cx="613.3" cy="401.5" r="2.5" fill="url(#gN)"/><circle cx="632.6" cy="368.6" r="4" fill="url(#gGe)"/><circle cx="632.6" cy="382.9" r="2.5" fill="url(#gN)"/><circle cx="632.6" cy="401.5" r="2.5" fill="url(#gN)"/><circle cx="651.9" cy="368.6" r="4" fill="url(#gGe)"/><circle cx="651.9" cy="382.9" r="2.5" fill="url(#gN)"/><circle cx="651.9" cy="401.5" r="2.5" fill="url(#gN)"/><circle cx="580.23" cy="391.8" r="4.6" fill="url(#gW)"/><circle cx="599.78" cy="391.8" r="4.6" fill="url(#gW)"/><circle cx="619.33" cy="391.8" r="4.6" fill="url(#gW)"/><circle cx="638.88" cy="391.8" r="4.6" fill="url(#gW)"/><circle cx="574.7" cy="415.4" r="4" fill="url(#gGe)"/><circle cx="594" cy="415.4" r="4" fill="url(#gGe)"/><circle cx="613.3" cy="415.4" r="4" fill="url(#gGe)"/><circle cx="632.6" cy="415.4" r="4" fill="url(#gGe)"/><circle cx="651.9" cy="415.4" r="4" fill="url(#gGe)"/><circle cx="580.9" cy="420.2" r="2.5" fill="url(#gN)"/><circle cx="600.2" cy="420.2" r="2.5" fill="url(#gN)"/><circle cx="619.5" cy="420.2" r="2.5" fill="url(#gN)"/><circle cx="638.8" cy="420.2" r="2.5" fill="url(#gN)"/></svg></body></html>
